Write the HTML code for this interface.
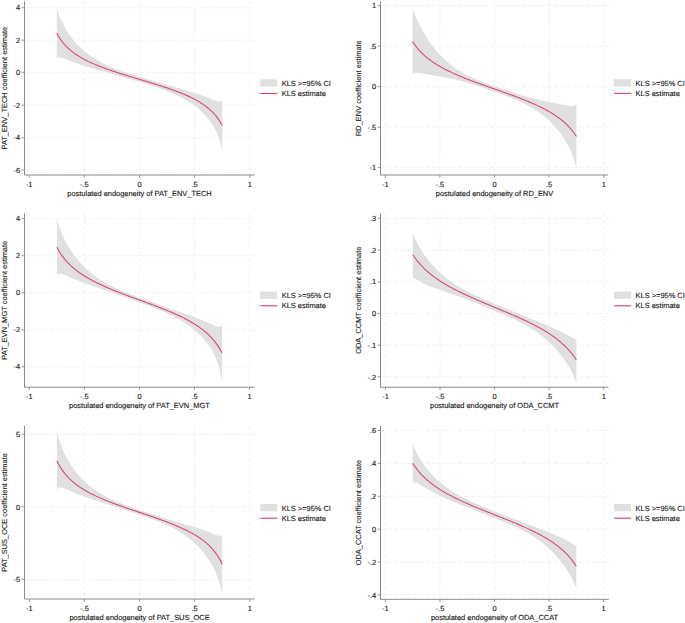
<!DOCTYPE html><html><head><meta charset="utf-8"><style>html,body{margin:0;padding:0;background:#fff;}svg{display:block}</style></head><body>
<svg width="685" height="623" viewBox="0 0 685 623" font-family='"Liberation Sans", sans-serif' font-size="7.45" text-rendering="geometricPrecision">
<style>text{stroke:#111;stroke-width:0.12px;}</style>
<rect width="685" height="623" fill="#fff"/>
<path d="M25.00 7.70H254.70 M25.00 40.20H254.70 M25.00 72.70H254.70 M25.00 105.20H254.70 M25.00 137.70H254.70 M25.00 170.20H254.70 M29.20 1.30V174.50 M84.35 1.30V174.50 M139.50 1.30V174.50 M194.65 1.30V174.50 M249.80 1.30V174.50" stroke="#eeeeee" stroke-width="0.85" stroke-dasharray="4 2.4" fill="none"/>
<path d="M56.78 7.10 L57.33 9.17 L57.88 11.05 L58.43 12.79 L58.98 14.41 L59.53 15.93 L60.08 17.37 L60.64 18.73 L61.19 20.03 L61.74 21.28 L62.29 22.47 L62.84 23.62 L63.39 24.72 L63.94 25.79 L64.50 26.82 L65.05 27.82 L65.60 28.78 L66.15 29.72 L66.70 30.63 L67.25 31.52 L67.81 32.38 L68.36 33.22 L68.91 34.04 L69.46 34.84 L70.01 35.62 L70.56 36.38 L71.11 37.13 L71.67 37.85 L72.22 38.56 L72.77 39.26 L73.32 39.94 L73.87 40.61 L74.42 41.26 L74.97 41.90 L75.53 42.53 L76.08 43.14 L76.63 43.74 L77.18 44.33 L77.73 44.91 L78.28 45.48 L78.83 46.04 L79.39 46.59 L79.94 47.13 L80.49 47.65 L81.04 48.17 L81.59 48.68 L82.14 49.19 L82.70 49.68 L83.25 50.16 L83.80 50.64 L84.35 51.11 L84.90 51.57 L85.45 52.02 L86.00 52.47 L86.56 52.91 L87.11 53.34 L87.66 53.76 L88.21 54.18 L88.76 54.59 L89.31 55.00 L89.87 55.39 L90.42 55.79 L90.97 56.17 L91.52 56.55 L92.07 56.93 L92.62 57.30 L93.17 57.66 L93.73 58.02 L94.28 58.37 L94.83 58.72 L95.38 59.06 L95.93 59.40 L96.48 59.73 L97.03 60.06 L97.59 60.39 L98.14 60.71 L98.69 61.02 L99.24 61.33 L99.79 61.64 L100.34 61.94 L100.90 62.23 L101.45 62.53 L102.00 62.82 L102.55 63.10 L103.10 63.38 L103.65 63.66 L104.20 63.94 L104.76 64.21 L105.31 64.47 L105.86 64.74 L106.41 65.00 L106.96 65.26 L107.51 65.51 L108.06 65.76 L108.62 66.01 L109.17 66.25 L109.72 66.50 L110.27 66.73 L110.82 66.97 L111.37 67.20 L111.93 67.43 L112.48 67.66 L113.03 67.89 L113.58 68.11 L114.13 68.33 L114.68 68.55 L115.23 68.76 L115.79 68.98 L116.34 69.19 L116.89 69.40 L117.44 69.60 L117.99 69.81 L118.54 70.01 L119.09 70.21 L119.65 70.41 L120.20 70.61 L120.75 70.80 L121.30 71.00 L121.85 71.19 L122.40 71.38 L122.96 71.57 L123.51 71.76 L124.06 71.94 L124.61 72.13 L125.16 72.31 L125.71 72.49 L126.26 72.67 L126.82 72.85 L127.37 73.03 L127.92 73.20 L128.47 73.38 L129.02 73.56 L129.57 73.73 L130.12 73.90 L130.68 74.07 L131.23 74.25 L131.78 74.42 L132.33 74.59 L132.88 74.76 L133.43 74.92 L133.99 75.09 L134.54 75.26 L135.09 75.43 L135.64 75.59 L136.19 75.76 L136.74 75.92 L137.29 76.09 L137.85 76.26 L138.40 76.42 L138.95 76.59 L139.50 76.75 L140.05 76.91 L140.60 77.08 L141.15 77.24 L141.71 77.41 L142.26 77.57 L142.81 77.74 L143.36 77.90 L143.91 78.06 L144.46 78.23 L145.02 78.39 L145.57 78.55 L146.12 78.72 L146.67 78.88 L147.22 79.04 L147.77 79.21 L148.32 79.37 L148.88 79.53 L149.43 79.69 L149.98 79.86 L150.53 80.02 L151.08 80.18 L151.63 80.34 L152.18 80.51 L152.74 80.67 L153.29 80.83 L153.84 80.99 L154.39 81.15 L154.94 81.31 L155.49 81.47 L156.04 81.63 L156.60 81.79 L157.15 81.95 L157.70 82.12 L158.25 82.28 L158.80 82.44 L159.35 82.60 L159.91 82.76 L160.46 82.92 L161.01 83.07 L161.56 83.23 L162.11 83.39 L162.66 83.55 L163.21 83.71 L163.77 83.87 L164.32 84.03 L164.87 84.19 L165.42 84.35 L165.97 84.51 L166.52 84.67 L167.07 84.82 L167.63 84.98 L168.18 85.14 L168.73 85.30 L169.28 85.46 L169.83 85.62 L170.38 85.77 L170.94 85.93 L171.49 86.09 L172.04 86.25 L172.59 86.41 L173.14 86.56 L173.69 86.72 L174.24 86.88 L174.80 87.04 L175.35 87.20 L175.90 87.36 L176.45 87.51 L177.00 87.67 L177.55 87.83 L178.11 87.99 L178.66 88.15 L179.21 88.31 L179.76 88.47 L180.31 88.63 L180.86 88.79 L181.41 88.95 L181.97 89.11 L182.52 89.27 L183.07 89.43 L183.62 89.59 L184.17 89.75 L184.72 89.92 L185.27 90.08 L185.83 90.24 L186.38 90.41 L186.93 90.57 L187.48 90.73 L188.03 90.90 L188.58 91.07 L189.13 91.23 L189.69 91.40 L190.24 91.57 L190.79 91.74 L191.34 91.91 L191.89 92.08 L192.44 92.25 L193.00 92.42 L193.55 92.59 L194.10 92.77 L194.65 92.94 L195.20 93.12 L195.75 93.30 L196.30 93.48 L196.86 93.66 L197.41 93.84 L197.96 94.02 L198.51 94.21 L199.06 94.39 L199.61 94.58 L200.17 94.77 L200.72 94.96 L201.27 95.16 L201.82 95.35 L202.37 95.55 L202.92 95.75 L203.47 95.95 L204.03 96.15 L204.58 96.36 L205.13 96.57 L205.68 96.78 L206.23 96.99 L206.78 97.20 L207.33 97.42 L207.89 97.64 L208.44 97.86 L208.99 98.08 L209.54 98.30 L210.09 98.53 L210.64 98.76 L211.19 98.98 L211.75 99.21 L212.30 99.44 L212.85 99.67 L213.40 99.89 L213.95 100.12 L214.50 100.34 L215.06 100.55 L215.61 100.75 L216.16 100.95 L216.71 101.13 L217.26 101.29 L217.81 101.42 L218.36 101.52 L218.92 101.57 L219.47 101.57 L220.02 101.49 L220.57 101.30 L221.12 100.96 L221.67 100.43 L222.23 99.60 L222.23 151.60 L221.67 148.67 L221.12 146.12 L220.57 143.87 L220.02 141.85 L219.47 140.01 L218.92 138.32 L218.36 136.76 L217.81 135.30 L217.26 133.94 L216.71 132.65 L216.16 131.43 L215.61 130.28 L215.06 129.18 L214.50 128.13 L213.95 127.12 L213.40 126.16 L212.85 125.23 L212.30 124.34 L211.75 123.48 L211.19 122.65 L210.64 121.85 L210.09 121.07 L209.54 120.32 L208.99 119.59 L208.44 118.88 L207.89 118.19 L207.33 117.52 L206.78 116.86 L206.23 116.22 L205.68 115.60 L205.13 115.00 L204.58 114.41 L204.03 113.83 L203.47 113.26 L202.92 112.71 L202.37 112.17 L201.82 111.64 L201.27 111.13 L200.72 110.62 L200.17 110.12 L199.61 109.64 L199.06 109.16 L198.51 108.69 L197.96 108.23 L197.41 107.78 L196.86 107.34 L196.30 106.91 L195.75 106.48 L195.20 106.06 L194.65 105.65 L194.10 105.24 L193.55 104.85 L193.00 104.46 L192.44 104.07 L191.89 103.69 L191.34 103.32 L190.79 102.95 L190.24 102.59 L189.69 102.23 L189.13 101.88 L188.58 101.54 L188.03 101.20 L187.48 100.86 L186.93 100.53 L186.38 100.21 L185.83 99.89 L185.27 99.57 L184.72 99.26 L184.17 98.95 L183.62 98.64 L183.07 98.34 L182.52 98.05 L181.97 97.76 L181.41 97.47 L180.86 97.18 L180.31 96.90 L179.76 96.63 L179.21 96.35 L178.66 96.08 L178.11 95.81 L177.55 95.55 L177.00 95.29 L176.45 95.03 L175.90 94.78 L175.35 94.52 L174.80 94.27 L174.24 94.03 L173.69 93.78 L173.14 93.54 L172.59 93.30 L172.04 93.07 L171.49 92.84 L170.94 92.60 L170.38 92.38 L169.83 92.15 L169.28 91.93 L168.73 91.70 L168.18 91.48 L167.63 91.27 L167.07 91.05 L166.52 90.84 L165.97 90.63 L165.42 90.42 L164.87 90.21 L164.32 90.00 L163.77 89.80 L163.21 89.59 L162.66 89.39 L162.11 89.19 L161.56 89.00 L161.01 88.80 L160.46 88.61 L159.91 88.41 L159.35 88.22 L158.80 88.03 L158.25 87.84 L157.70 87.65 L157.15 87.47 L156.60 87.28 L156.04 87.10 L155.49 86.91 L154.94 86.73 L154.39 86.55 L153.84 86.37 L153.29 86.19 L152.74 86.02 L152.18 85.84 L151.63 85.66 L151.08 85.49 L150.53 85.31 L149.98 85.14 L149.43 84.97 L148.88 84.80 L148.32 84.62 L147.77 84.45 L147.22 84.28 L146.67 84.11 L146.12 83.95 L145.57 83.78 L145.02 83.61 L144.46 83.44 L143.91 83.28 L143.36 83.11 L142.81 82.94 L142.26 82.78 L141.71 82.61 L141.15 82.45 L140.60 82.28 L140.05 82.11 L139.50 81.95 L138.95 81.79 L138.40 81.62 L137.85 81.46 L137.29 81.29 L136.74 81.13 L136.19 80.96 L135.64 80.80 L135.09 80.64 L134.54 80.47 L133.99 80.31 L133.43 80.15 L132.88 79.98 L132.33 79.82 L131.78 79.66 L131.23 79.49 L130.68 79.33 L130.12 79.17 L129.57 79.01 L129.02 78.84 L128.47 78.68 L127.92 78.52 L127.37 78.36 L126.82 78.20 L126.26 78.03 L125.71 77.87 L125.16 77.71 L124.61 77.55 L124.06 77.39 L123.51 77.23 L122.96 77.07 L122.40 76.91 L121.85 76.75 L121.30 76.59 L120.75 76.43 L120.20 76.27 L119.65 76.11 L119.09 75.95 L118.54 75.79 L117.99 75.63 L117.44 75.47 L116.89 75.31 L116.34 75.15 L115.79 74.99 L115.23 74.83 L114.68 74.68 L114.13 74.52 L113.58 74.36 L113.03 74.20 L112.48 74.04 L111.93 73.88 L111.37 73.73 L110.82 73.57 L110.27 73.41 L109.72 73.25 L109.17 73.10 L108.62 72.94 L108.06 72.78 L107.51 72.62 L106.96 72.47 L106.41 72.31 L105.86 72.15 L105.31 71.99 L104.76 71.84 L104.20 71.68 L103.65 71.52 L103.10 71.37 L102.55 71.21 L102.00 71.05 L101.45 70.89 L100.90 70.73 L100.34 70.58 L99.79 70.42 L99.24 70.26 L98.69 70.10 L98.14 69.94 L97.59 69.79 L97.03 69.63 L96.48 69.47 L95.93 69.31 L95.38 69.15 L94.83 68.99 L94.28 68.83 L93.73 68.67 L93.17 68.50 L92.62 68.34 L92.07 68.18 L91.52 68.02 L90.97 67.85 L90.42 67.69 L89.87 67.52 L89.31 67.36 L88.76 67.19 L88.21 67.03 L87.66 66.86 L87.11 66.69 L86.56 66.52 L86.00 66.35 L85.45 66.18 L84.90 66.01 L84.35 65.83 L83.80 65.66 L83.25 65.48 L82.70 65.31 L82.14 65.13 L81.59 64.95 L81.04 64.77 L80.49 64.59 L79.94 64.40 L79.39 64.22 L78.83 64.03 L78.28 63.84 L77.73 63.65 L77.18 63.46 L76.63 63.26 L76.08 63.07 L75.53 62.87 L74.97 62.67 L74.42 62.46 L73.87 62.26 L73.32 62.05 L72.77 61.84 L72.22 61.63 L71.67 61.42 L71.11 61.20 L70.56 60.98 L70.01 60.76 L69.46 60.54 L68.91 60.31 L68.36 60.09 L67.81 59.86 L67.25 59.64 L66.70 59.41 L66.15 59.18 L65.60 58.96 L65.05 58.73 L64.50 58.51 L63.94 58.30 L63.39 58.09 L62.84 57.90 L62.29 57.72 L61.74 57.55 L61.19 57.42 L60.64 57.31 L60.08 57.25 L59.53 57.24 L58.98 57.31 L58.43 57.48 L57.88 57.80 L57.33 58.31 L56.78 59.10Z" fill="#e0e0e0"/>
<path d="M56.78 33.10 L57.33 34.15 L57.88 35.16 L58.43 36.12 L58.98 37.03 L59.53 37.91 L60.08 38.75 L60.64 39.56 L61.19 40.34 L61.74 41.09 L62.29 41.81 L62.84 42.51 L63.39 43.18 L63.94 43.84 L64.50 44.47 L65.05 45.08 L65.60 45.67 L66.15 46.25 L66.70 46.81 L67.25 47.35 L67.81 47.88 L68.36 48.40 L68.91 48.90 L69.46 49.39 L70.01 49.87 L70.56 50.33 L71.11 50.79 L71.67 51.23 L72.22 51.67 L72.77 52.09 L73.32 52.51 L73.87 52.92 L74.42 53.32 L74.97 53.71 L75.53 54.09 L76.08 54.47 L76.63 54.84 L77.18 55.20 L77.73 55.56 L78.28 55.91 L78.83 56.25 L79.39 56.59 L79.94 56.92 L80.49 57.25 L81.04 57.57 L81.59 57.89 L82.14 58.20 L82.70 58.51 L83.25 58.81 L83.80 59.11 L84.35 59.40 L84.90 59.69 L85.45 59.98 L86.00 60.26 L86.56 60.54 L87.11 60.82 L87.66 61.09 L88.21 61.36 L88.76 61.62 L89.31 61.88 L89.87 62.14 L90.42 62.40 L90.97 62.65 L91.52 62.90 L92.07 63.15 L92.62 63.39 L93.17 63.64 L93.73 63.88 L94.28 64.11 L94.83 64.35 L95.38 64.58 L95.93 64.81 L96.48 65.04 L97.03 65.27 L97.59 65.49 L98.14 65.71 L98.69 65.93 L99.24 66.15 L99.79 66.37 L100.34 66.58 L100.90 66.80 L101.45 67.01 L102.00 67.22 L102.55 67.43 L103.10 67.63 L103.65 67.84 L104.20 68.04 L104.76 68.25 L105.31 68.45 L105.86 68.65 L106.41 68.84 L106.96 69.04 L107.51 69.24 L108.06 69.43 L108.62 69.63 L109.17 69.82 L109.72 70.01 L110.27 70.20 L110.82 70.39 L111.37 70.58 L111.93 70.76 L112.48 70.95 L113.03 71.13 L113.58 71.32 L114.13 71.50 L114.68 71.68 L115.23 71.87 L115.79 72.05 L116.34 72.23 L116.89 72.41 L117.44 72.58 L117.99 72.76 L118.54 72.94 L119.09 73.12 L119.65 73.29 L120.20 73.47 L120.75 73.64 L121.30 73.82 L121.85 73.99 L122.40 74.16 L122.96 74.33 L123.51 74.51 L124.06 74.68 L124.61 74.85 L125.16 75.02 L125.71 75.19 L126.26 75.36 L126.82 75.53 L127.37 75.70 L127.92 75.87 L128.47 76.03 L129.02 76.20 L129.57 76.37 L130.12 76.54 L130.68 76.70 L131.23 76.87 L131.78 77.04 L132.33 77.20 L132.88 77.37 L133.43 77.53 L133.99 77.70 L134.54 77.87 L135.09 78.03 L135.64 78.20 L136.19 78.36 L136.74 78.53 L137.29 78.69 L137.85 78.86 L138.40 79.02 L138.95 79.19 L139.50 79.35 L140.05 79.51 L140.60 79.68 L141.15 79.84 L141.71 80.01 L142.26 80.17 L142.81 80.34 L143.36 80.50 L143.91 80.67 L144.46 80.83 L145.02 81.00 L145.57 81.17 L146.12 81.33 L146.67 81.50 L147.22 81.66 L147.77 81.83 L148.32 82.00 L148.88 82.16 L149.43 82.33 L149.98 82.50 L150.53 82.67 L151.08 82.83 L151.63 83.00 L152.18 83.17 L152.74 83.34 L153.29 83.51 L153.84 83.68 L154.39 83.85 L154.94 84.02 L155.49 84.19 L156.04 84.37 L156.60 84.54 L157.15 84.71 L157.70 84.88 L158.25 85.06 L158.80 85.23 L159.35 85.41 L159.91 85.58 L160.46 85.76 L161.01 85.94 L161.56 86.12 L162.11 86.29 L162.66 86.47 L163.21 86.65 L163.77 86.83 L164.32 87.02 L164.87 87.20 L165.42 87.38 L165.97 87.57 L166.52 87.75 L167.07 87.94 L167.63 88.12 L168.18 88.31 L168.73 88.50 L169.28 88.69 L169.83 88.88 L170.38 89.07 L170.94 89.27 L171.49 89.46 L172.04 89.66 L172.59 89.86 L173.14 90.05 L173.69 90.25 L174.24 90.45 L174.80 90.66 L175.35 90.86 L175.90 91.07 L176.45 91.27 L177.00 91.48 L177.55 91.69 L178.11 91.90 L178.66 92.12 L179.21 92.33 L179.76 92.55 L180.31 92.77 L180.86 92.99 L181.41 93.21 L181.97 93.43 L182.52 93.66 L183.07 93.89 L183.62 94.12 L184.17 94.35 L184.72 94.59 L185.27 94.82 L185.83 95.06 L186.38 95.31 L186.93 95.55 L187.48 95.80 L188.03 96.05 L188.58 96.30 L189.13 96.56 L189.69 96.82 L190.24 97.08 L190.79 97.34 L191.34 97.61 L191.89 97.88 L192.44 98.16 L193.00 98.44 L193.55 98.72 L194.10 99.01 L194.65 99.30 L195.20 99.59 L195.75 99.89 L196.30 100.19 L196.86 100.50 L197.41 100.81 L197.96 101.13 L198.51 101.45 L199.06 101.78 L199.61 102.11 L200.17 102.45 L200.72 102.79 L201.27 103.14 L201.82 103.50 L202.37 103.86 L202.92 104.23 L203.47 104.61 L204.03 104.99 L204.58 105.38 L205.13 105.78 L205.68 106.19 L206.23 106.61 L206.78 107.03 L207.33 107.47 L207.89 107.91 L208.44 108.37 L208.99 108.83 L209.54 109.31 L210.09 109.80 L210.64 110.30 L211.19 110.82 L211.75 111.35 L212.30 111.89 L212.85 112.45 L213.40 113.03 L213.95 113.62 L214.50 114.23 L215.06 114.86 L215.61 115.52 L216.16 116.19 L216.71 116.89 L217.26 117.61 L217.81 118.36 L218.36 119.14 L218.92 119.95 L219.47 120.79 L220.02 121.67 L220.57 122.58 L221.12 123.54 L221.67 124.55 L222.23 125.60" stroke="#d6417a" stroke-width="1.05" fill="none" stroke-linejoin="round"/>
<path d="M24.50 1.30V175.00H254.70" stroke="#8a8a8a" stroke-width="1" fill="none"/>
<path d="M21.70 7.70H24.50 M21.70 40.20H24.50 M21.70 72.70H24.50 M21.70 105.20H24.50 M21.70 137.70H24.50 M21.70 170.20H24.50 M29.20 175.00V177.60 M84.35 175.00V177.60 M139.50 175.00V177.60 M194.65 175.00V177.60 M249.80 175.00V177.60" stroke="#8a8a8a" stroke-width="0.9" fill="none"/>
<text x="20.10" y="10.35" text-anchor="end" fill="#141414">4</text>
<text x="20.10" y="42.85" text-anchor="end" fill="#141414">2</text>
<text x="20.10" y="75.35" text-anchor="end" fill="#141414">0</text>
<text x="20.10" y="107.85" text-anchor="end" fill="#141414">-2</text>
<text x="20.10" y="140.35" text-anchor="end" fill="#141414">-4</text>
<text x="20.10" y="172.85" text-anchor="end" fill="#141414">-6</text>
<text x="29.20" y="186.80" text-anchor="middle" fill="#141414">-1</text>
<text x="84.35" y="186.80" text-anchor="middle" fill="#141414">-.5</text>
<text x="139.50" y="186.80" text-anchor="middle" fill="#141414">0</text>
<text x="194.65" y="186.80" text-anchor="middle" fill="#141414">.5</text>
<text x="249.80" y="186.80" text-anchor="middle" fill="#141414">1</text>
<text x="139.50" y="196.00" text-anchor="middle" fill="#141414">postulated endogeneity of PAT_ENV_TECH</text>
<text transform="translate(7.00 88.15) rotate(-90)" text-anchor="middle" fill="#141414" style="stroke-width:0.08px">PAT_ENV_TECH coefficient estimate</text>
<rect x="260.20" y="79.30" width="17" height="7.3" fill="#e0e0e0"/>
<path d="M260.20 93.50H277.20" stroke="#d6417a" stroke-width="1.1"/>
<text x="281.70" y="85.80" fill="#141414">KLS &gt;=95% CI</text>
<text x="281.70" y="95.90" fill="#141414">KLS estimate</text>
<path d="M381.00 5.70H608.20 M381.00 46.18H608.20 M381.00 86.65H608.20 M381.00 127.13H608.20 M381.00 167.60H608.20 M385.30 1.30V174.50 M439.90 1.30V174.50 M494.50 1.30V174.50 M549.10 1.30V174.50 M603.70 1.30V174.50" stroke="#eeeeee" stroke-width="0.85" stroke-dasharray="4 2.4" fill="none"/>
<path d="M412.60 8.80 L413.15 10.25 L413.69 11.66 L414.24 13.04 L414.78 14.38 L415.33 15.69 L415.88 16.98 L416.42 18.23 L416.97 19.46 L417.51 20.66 L418.06 21.83 L418.61 22.98 L419.15 24.11 L419.70 25.21 L420.24 26.29 L420.79 27.35 L421.34 28.39 L421.88 29.41 L422.43 30.41 L422.97 31.40 L423.52 32.36 L424.07 33.31 L424.61 34.24 L425.16 35.15 L425.70 36.05 L426.25 36.93 L426.80 37.79 L427.34 38.64 L427.89 39.48 L428.43 40.30 L428.98 41.11 L429.53 41.90 L430.07 42.68 L430.62 43.45 L431.16 44.21 L431.71 44.95 L432.26 45.68 L432.80 46.40 L433.35 47.11 L433.89 47.81 L434.44 48.49 L434.99 49.16 L435.53 49.83 L436.08 50.48 L436.62 51.12 L437.17 51.76 L437.72 52.38 L438.26 52.99 L438.81 53.60 L439.35 54.19 L439.90 54.77 L440.45 55.35 L440.99 55.92 L441.54 56.48 L442.08 57.02 L442.63 57.57 L443.18 58.10 L443.72 58.62 L444.27 59.14 L444.81 59.65 L445.36 60.15 L445.91 60.65 L446.45 61.13 L447.00 61.61 L447.54 62.08 L448.09 62.55 L448.64 63.00 L449.18 63.46 L449.73 63.90 L450.27 64.34 L450.82 64.77 L451.37 65.19 L451.91 65.61 L452.46 66.02 L453.00 66.43 L453.55 66.83 L454.10 67.22 L454.64 67.61 L455.19 68.00 L455.73 68.37 L456.28 68.75 L456.83 69.11 L457.37 69.47 L457.92 69.83 L458.46 70.18 L459.01 70.53 L459.56 70.87 L460.10 71.20 L460.65 71.54 L461.19 71.86 L461.74 72.19 L462.29 72.50 L462.83 72.82 L463.38 73.13 L463.92 73.43 L464.47 73.73 L465.02 74.03 L465.56 74.32 L466.11 74.61 L466.65 74.90 L467.20 75.18 L467.75 75.46 L468.29 75.73 L468.84 76.00 L469.38 76.27 L469.93 76.53 L470.48 76.79 L471.02 77.05 L471.57 77.31 L472.11 77.56 L472.66 77.81 L473.21 78.05 L473.75 78.30 L474.30 78.54 L474.84 78.78 L475.39 79.01 L475.94 79.24 L476.48 79.47 L477.03 79.70 L477.57 79.93 L478.12 80.15 L478.67 80.37 L479.21 80.59 L479.76 80.81 L480.30 81.03 L480.85 81.24 L481.40 81.45 L481.94 81.66 L482.49 81.87 L483.03 82.08 L483.58 82.28 L484.13 82.49 L484.67 82.69 L485.22 82.89 L485.76 83.09 L486.31 83.29 L486.86 83.49 L487.40 83.69 L487.95 83.89 L488.49 84.08 L489.04 84.28 L489.59 84.47 L490.13 84.66 L490.68 84.86 L491.22 85.05 L491.77 85.24 L492.32 85.43 L492.86 85.63 L493.41 85.82 L493.95 86.01 L494.50 86.20 L495.05 86.39 L495.59 86.58 L496.14 86.77 L496.68 86.96 L497.23 87.15 L497.78 87.34 L498.32 87.53 L498.87 87.72 L499.41 87.91 L499.96 88.10 L500.51 88.29 L501.05 88.48 L501.60 88.67 L502.14 88.86 L502.69 89.05 L503.24 89.23 L503.78 89.42 L504.33 89.61 L504.87 89.79 L505.42 89.98 L505.97 90.16 L506.51 90.35 L507.06 90.53 L507.60 90.72 L508.15 90.90 L508.70 91.08 L509.24 91.27 L509.79 91.45 L510.33 91.63 L510.88 91.81 L511.43 91.99 L511.97 92.17 L512.52 92.34 L513.06 92.52 L513.61 92.70 L514.16 92.87 L514.70 93.05 L515.25 93.22 L515.79 93.40 L516.34 93.57 L516.89 93.74 L517.43 93.91 L517.98 94.08 L518.52 94.25 L519.07 94.42 L519.62 94.59 L520.16 94.75 L520.71 94.92 L521.25 95.08 L521.80 95.25 L522.35 95.41 L522.89 95.57 L523.44 95.73 L523.98 95.89 L524.53 96.05 L525.08 96.21 L525.62 96.37 L526.17 96.52 L526.71 96.68 L527.26 96.83 L527.81 96.98 L528.35 97.14 L528.90 97.29 L529.44 97.43 L529.99 97.58 L530.54 97.73 L531.08 97.88 L531.63 98.02 L532.17 98.16 L532.72 98.31 L533.27 98.45 L533.81 98.59 L534.36 98.73 L534.90 98.87 L535.45 99.00 L536.00 99.14 L536.54 99.27 L537.09 99.41 L537.63 99.54 L538.18 99.67 L538.73 99.80 L539.27 99.93 L539.82 100.06 L540.36 100.19 L540.91 100.31 L541.46 100.44 L542.00 100.56 L542.55 100.68 L543.09 100.81 L543.64 100.93 L544.19 101.05 L544.73 101.17 L545.28 101.28 L545.82 101.40 L546.37 101.52 L546.92 101.63 L547.46 101.75 L548.01 101.86 L548.55 101.97 L549.10 102.08 L549.65 102.20 L550.19 102.31 L550.74 102.42 L551.28 102.53 L551.83 102.63 L552.38 102.74 L552.92 102.85 L553.47 102.96 L554.01 103.06 L554.56 103.17 L555.11 103.27 L555.65 103.38 L556.20 103.48 L556.74 103.59 L557.29 103.69 L557.84 103.80 L558.38 103.90 L558.93 104.00 L559.47 104.11 L560.02 104.21 L560.57 104.31 L561.11 104.42 L561.66 104.52 L562.20 104.62 L562.75 104.72 L563.30 104.82 L563.84 104.92 L564.39 105.02 L564.93 105.12 L565.48 105.22 L566.03 105.31 L566.57 105.41 L567.12 105.50 L567.66 105.58 L568.21 105.67 L568.76 105.74 L569.30 105.81 L569.85 105.87 L570.39 105.93 L570.94 105.96 L571.49 105.98 L572.03 105.98 L572.58 105.95 L573.12 105.89 L573.67 105.78 L574.22 105.61 L574.76 105.36 L575.31 105.01 L575.85 104.51 L576.40 103.80 L576.40 169.20 L575.85 166.65 L575.31 164.40 L574.76 162.37 L574.22 160.51 L573.67 158.79 L573.12 157.19 L572.58 155.68 L572.03 154.25 L571.49 152.90 L570.94 151.60 L570.39 150.37 L569.85 149.18 L569.30 148.03 L568.76 146.92 L568.21 145.86 L567.66 144.82 L567.12 143.82 L566.57 142.84 L566.03 141.89 L565.48 140.97 L564.93 140.07 L564.39 139.20 L563.84 138.34 L563.30 137.51 L562.75 136.69 L562.20 135.89 L561.66 135.11 L561.11 134.35 L560.57 133.60 L560.02 132.87 L559.47 132.15 L558.93 131.45 L558.38 130.76 L557.84 130.08 L557.29 129.42 L556.74 128.77 L556.20 128.13 L555.65 127.50 L555.11 126.88 L554.56 126.28 L554.01 125.68 L553.47 125.10 L552.92 124.52 L552.38 123.96 L551.83 123.40 L551.28 122.85 L550.74 122.31 L550.19 121.78 L549.65 121.26 L549.10 120.75 L548.55 120.25 L548.01 119.75 L547.46 119.26 L546.92 118.78 L546.37 118.30 L545.82 117.84 L545.28 117.38 L544.73 116.92 L544.19 116.48 L543.64 116.04 L543.09 115.60 L542.55 115.18 L542.00 114.75 L541.46 114.34 L540.91 113.93 L540.36 113.53 L539.82 113.13 L539.27 112.74 L538.73 112.35 L538.18 111.97 L537.63 111.59 L537.09 111.22 L536.54 110.85 L536.00 110.49 L535.45 110.14 L534.90 109.78 L534.36 109.44 L533.81 109.10 L533.27 108.76 L532.72 108.42 L532.17 108.09 L531.63 107.77 L531.08 107.45 L530.54 107.13 L529.99 106.82 L529.44 106.51 L528.90 106.20 L528.35 105.90 L527.81 105.60 L527.26 105.31 L526.71 105.02 L526.17 104.73 L525.62 104.45 L525.08 104.17 L524.53 103.89 L523.98 103.61 L523.44 103.34 L522.89 103.07 L522.35 102.81 L521.80 102.55 L521.25 102.29 L520.71 102.03 L520.16 101.78 L519.62 101.52 L519.07 101.27 L518.52 101.03 L517.98 100.78 L517.43 100.54 L516.89 100.30 L516.34 100.07 L515.79 99.83 L515.25 99.60 L514.70 99.37 L514.16 99.14 L513.61 98.91 L513.06 98.69 L512.52 98.46 L511.97 98.24 L511.43 98.02 L510.88 97.81 L510.33 97.59 L509.79 97.37 L509.24 97.16 L508.70 96.95 L508.15 96.74 L507.60 96.53 L507.06 96.32 L506.51 96.12 L505.97 95.91 L505.42 95.71 L504.87 95.51 L504.33 95.31 L503.78 95.10 L503.24 94.91 L502.69 94.71 L502.14 94.51 L501.60 94.31 L501.05 94.12 L500.51 93.92 L499.96 93.72 L499.41 93.53 L498.87 93.34 L498.32 93.14 L497.78 92.95 L497.23 92.76 L496.68 92.57 L496.14 92.37 L495.59 92.18 L495.05 91.99 L494.50 91.80 L493.95 91.61 L493.41 91.42 L492.86 91.23 L492.32 91.04 L491.77 90.85 L491.22 90.66 L490.68 90.46 L490.13 90.27 L489.59 90.09 L489.04 89.90 L488.49 89.71 L487.95 89.52 L487.40 89.33 L486.86 89.14 L486.31 88.95 L485.76 88.77 L485.22 88.58 L484.67 88.39 L484.13 88.21 L483.58 88.02 L483.03 87.84 L482.49 87.65 L481.94 87.47 L481.40 87.29 L480.85 87.10 L480.30 86.92 L479.76 86.74 L479.21 86.56 L478.67 86.38 L478.12 86.20 L477.57 86.02 L477.03 85.85 L476.48 85.67 L475.94 85.49 L475.39 85.32 L474.84 85.14 L474.30 84.97 L473.75 84.80 L473.21 84.63 L472.66 84.46 L472.11 84.29 L471.57 84.12 L471.02 83.95 L470.48 83.78 L469.93 83.62 L469.38 83.45 L468.84 83.29 L468.29 83.13 L467.75 82.97 L467.20 82.81 L466.65 82.65 L466.11 82.49 L465.56 82.33 L465.02 82.18 L464.47 82.02 L463.92 81.87 L463.38 81.72 L462.83 81.57 L462.29 81.42 L461.74 81.27 L461.19 81.12 L460.65 80.98 L460.10 80.83 L459.56 80.69 L459.01 80.55 L458.46 80.41 L457.92 80.27 L457.37 80.13 L456.83 79.99 L456.28 79.86 L455.73 79.73 L455.19 79.59 L454.64 79.46 L454.10 79.33 L453.55 79.20 L453.00 79.08 L452.46 78.95 L451.91 78.83 L451.37 78.70 L450.82 78.58 L450.27 78.46 L449.73 78.34 L449.18 78.22 L448.64 78.11 L448.09 77.99 L447.54 77.88 L447.00 77.77 L446.45 77.66 L445.91 77.55 L445.36 77.44 L444.81 77.33 L444.27 77.22 L443.72 77.12 L443.18 77.01 L442.63 76.91 L442.08 76.81 L441.54 76.71 L440.99 76.61 L440.45 76.51 L439.90 76.41 L439.35 76.31 L438.81 76.22 L438.26 76.12 L437.72 76.03 L437.17 75.94 L436.62 75.84 L436.08 75.75 L435.53 75.66 L434.99 75.57 L434.44 75.48 L433.89 75.39 L433.35 75.30 L432.80 75.21 L432.26 75.12 L431.71 75.03 L431.16 74.95 L430.62 74.86 L430.07 74.77 L429.53 74.68 L428.98 74.60 L428.43 74.51 L427.89 74.42 L427.34 74.33 L426.80 74.24 L426.25 74.16 L425.70 74.07 L425.16 73.98 L424.61 73.89 L424.07 73.81 L423.52 73.72 L422.97 73.63 L422.43 73.54 L421.88 73.46 L421.34 73.38 L420.79 73.29 L420.24 73.22 L419.70 73.14 L419.15 73.07 L418.61 73.01 L418.06 72.95 L417.51 72.91 L416.97 72.88 L416.42 72.87 L415.88 72.88 L415.33 72.92 L414.78 73.01 L414.24 73.16 L413.69 73.38 L413.15 73.71 L412.60 74.20Z" fill="#e0e0e0"/>
<path d="M412.60 41.50 L413.15 42.35 L413.69 43.18 L414.24 43.98 L414.78 44.75 L415.33 45.50 L415.88 46.23 L416.42 46.94 L416.97 47.62 L417.51 48.29 L418.06 48.94 L418.61 49.57 L419.15 50.19 L419.70 50.79 L420.24 51.38 L420.79 51.95 L421.34 52.51 L421.88 53.06 L422.43 53.59 L422.97 54.11 L423.52 54.62 L424.07 55.13 L424.61 55.62 L425.16 56.10 L425.70 56.57 L426.25 57.03 L426.80 57.48 L427.34 57.93 L427.89 58.37 L428.43 58.80 L428.98 59.22 L429.53 59.63 L430.07 60.04 L430.62 60.44 L431.16 60.84 L431.71 61.23 L432.26 61.61 L432.80 61.98 L433.35 62.36 L433.89 62.72 L434.44 63.08 L434.99 63.44 L435.53 63.79 L436.08 64.13 L436.62 64.48 L437.17 64.81 L437.72 65.14 L438.26 65.47 L438.81 65.80 L439.35 66.12 L439.90 66.43 L440.45 66.75 L440.99 67.06 L441.54 67.36 L442.08 67.66 L442.63 67.96 L443.18 68.26 L443.72 68.55 L444.27 68.84 L444.81 69.13 L445.36 69.41 L445.91 69.69 L446.45 69.97 L447.00 70.24 L447.54 70.52 L448.09 70.79 L448.64 71.06 L449.18 71.32 L449.73 71.58 L450.27 71.85 L450.82 72.10 L451.37 72.36 L451.91 72.62 L452.46 72.87 L453.00 73.12 L453.55 73.37 L454.10 73.61 L454.64 73.86 L455.19 74.10 L455.73 74.34 L456.28 74.58 L456.83 74.82 L457.37 75.06 L457.92 75.29 L458.46 75.53 L459.01 75.76 L459.56 75.99 L460.10 76.22 L460.65 76.45 L461.19 76.67 L461.74 76.90 L462.29 77.12 L462.83 77.35 L463.38 77.57 L463.92 77.79 L464.47 78.01 L465.02 78.22 L465.56 78.44 L466.11 78.66 L466.65 78.87 L467.20 79.09 L467.75 79.30 L468.29 79.51 L468.84 79.72 L469.38 79.93 L469.93 80.14 L470.48 80.35 L471.02 80.56 L471.57 80.76 L472.11 80.97 L472.66 81.18 L473.21 81.38 L473.75 81.58 L474.30 81.79 L474.84 81.99 L475.39 82.19 L475.94 82.39 L476.48 82.59 L477.03 82.79 L477.57 82.99 L478.12 83.19 L478.67 83.39 L479.21 83.59 L479.76 83.78 L480.30 83.98 L480.85 84.18 L481.40 84.37 L481.94 84.57 L482.49 84.77 L483.03 84.96 L483.58 85.16 L484.13 85.35 L484.67 85.54 L485.22 85.74 L485.76 85.93 L486.31 86.12 L486.86 86.32 L487.40 86.51 L487.95 86.70 L488.49 86.89 L489.04 87.09 L489.59 87.28 L490.13 87.47 L490.68 87.66 L491.22 87.85 L491.77 88.04 L492.32 88.24 L492.86 88.43 L493.41 88.62 L493.95 88.81 L494.50 89.00 L495.05 89.19 L495.59 89.38 L496.14 89.57 L496.68 89.76 L497.23 89.96 L497.78 90.15 L498.32 90.34 L498.87 90.53 L499.41 90.72 L499.96 90.91 L500.51 91.11 L501.05 91.30 L501.60 91.49 L502.14 91.68 L502.69 91.88 L503.24 92.07 L503.78 92.26 L504.33 92.46 L504.87 92.65 L505.42 92.84 L505.97 93.04 L506.51 93.23 L507.06 93.43 L507.60 93.63 L508.15 93.82 L508.70 94.02 L509.24 94.22 L509.79 94.41 L510.33 94.61 L510.88 94.81 L511.43 95.01 L511.97 95.21 L512.52 95.41 L513.06 95.61 L513.61 95.81 L514.16 96.01 L514.70 96.21 L515.25 96.42 L515.79 96.62 L516.34 96.82 L516.89 97.03 L517.43 97.24 L517.98 97.44 L518.52 97.65 L519.07 97.86 L519.62 98.07 L520.16 98.28 L520.71 98.49 L521.25 98.70 L521.80 98.91 L522.35 99.13 L522.89 99.34 L523.44 99.56 L523.98 99.78 L524.53 99.99 L525.08 100.21 L525.62 100.43 L526.17 100.65 L526.71 100.88 L527.26 101.10 L527.81 101.33 L528.35 101.55 L528.90 101.78 L529.44 102.01 L529.99 102.24 L530.54 102.47 L531.08 102.71 L531.63 102.94 L532.17 103.18 L532.72 103.42 L533.27 103.66 L533.81 103.90 L534.36 104.14 L534.90 104.39 L535.45 104.63 L536.00 104.88 L536.54 105.13 L537.09 105.38 L537.63 105.64 L538.18 105.90 L538.73 106.15 L539.27 106.42 L539.82 106.68 L540.36 106.94 L540.91 107.21 L541.46 107.48 L542.00 107.76 L542.55 108.03 L543.09 108.31 L543.64 108.59 L544.19 108.87 L544.73 109.16 L545.28 109.45 L545.82 109.74 L546.37 110.04 L546.92 110.34 L547.46 110.64 L548.01 110.94 L548.55 111.25 L549.10 111.57 L549.65 111.88 L550.19 112.20 L550.74 112.53 L551.28 112.86 L551.83 113.19 L552.38 113.52 L552.92 113.87 L553.47 114.21 L554.01 114.56 L554.56 114.92 L555.11 115.28 L555.65 115.64 L556.20 116.02 L556.74 116.39 L557.29 116.77 L557.84 117.16 L558.38 117.56 L558.93 117.96 L559.47 118.37 L560.02 118.78 L560.57 119.20 L561.11 119.63 L561.66 120.07 L562.20 120.52 L562.75 120.97 L563.30 121.43 L563.84 121.90 L564.39 122.38 L564.93 122.87 L565.48 123.38 L566.03 123.89 L566.57 124.41 L567.12 124.94 L567.66 125.49 L568.21 126.05 L568.76 126.62 L569.30 127.21 L569.85 127.81 L570.39 128.43 L570.94 129.06 L571.49 129.71 L572.03 130.38 L572.58 131.06 L573.12 131.77 L573.67 132.50 L574.22 133.25 L574.76 134.02 L575.31 134.82 L575.85 135.65 L576.40 136.50" stroke="#d6417a" stroke-width="1.05" fill="none" stroke-linejoin="round"/>
<path d="M380.50 1.30V175.00H608.20" stroke="#8a8a8a" stroke-width="1" fill="none"/>
<path d="M377.70 5.70H380.50 M377.70 46.18H380.50 M377.70 86.65H380.50 M377.70 127.13H380.50 M377.70 167.60H380.50 M385.30 175.00V177.60 M439.90 175.00V177.60 M494.50 175.00V177.60 M549.10 175.00V177.60 M603.70 175.00V177.60" stroke="#8a8a8a" stroke-width="0.9" fill="none"/>
<text x="376.10" y="8.35" text-anchor="end" fill="#141414">1</text>
<text x="376.10" y="48.83" text-anchor="end" fill="#141414">.5</text>
<text x="376.10" y="89.30" text-anchor="end" fill="#141414">0</text>
<text x="376.10" y="129.78" text-anchor="end" fill="#141414">-.5</text>
<text x="376.10" y="170.25" text-anchor="end" fill="#141414">-1</text>
<text x="385.30" y="186.80" text-anchor="middle" fill="#141414">-1</text>
<text x="439.90" y="186.80" text-anchor="middle" fill="#141414">-.5</text>
<text x="494.50" y="186.80" text-anchor="middle" fill="#141414">0</text>
<text x="549.10" y="186.80" text-anchor="middle" fill="#141414">.5</text>
<text x="603.70" y="186.80" text-anchor="middle" fill="#141414">1</text>
<text x="494.50" y="196.00" text-anchor="middle" fill="#141414">postulated endogeneity of RD_ENV</text>
<text transform="translate(361.20 88.15) rotate(-90)" text-anchor="middle" fill="#141414" style="stroke-width:0.08px">RD_ENV coefficient estimate</text>
<rect x="614.10" y="79.20" width="17" height="7.3" fill="#e0e0e0"/>
<path d="M614.10 93.40H631.10" stroke="#d6417a" stroke-width="1.1"/>
<text x="635.60" y="85.70" fill="#141414">KLS &gt;=95% CI</text>
<text x="635.60" y="95.80" fill="#141414">KLS estimate</text>
<path d="M25.00 218.60H254.50 M25.00 255.65H254.50 M25.00 292.70H254.50 M25.00 329.75H254.50 M25.00 366.80H254.50 M29.40 213.30V386.70 M84.42 213.30V386.70 M139.45 213.30V386.70 M194.47 213.30V386.70 M249.50 213.30V386.70" stroke="#eeeeee" stroke-width="0.85" stroke-dasharray="4 2.4" fill="none"/>
<path d="M56.91 219.10 L57.46 221.12 L58.01 222.99 L58.56 224.74 L59.11 226.38 L59.66 227.94 L60.21 229.43 L60.76 230.85 L61.31 232.22 L61.86 233.53 L62.41 234.80 L62.97 236.03 L63.52 237.22 L64.07 238.38 L64.62 239.50 L65.17 240.59 L65.72 241.65 L66.27 242.68 L66.82 243.68 L67.37 244.67 L67.92 245.62 L68.47 246.56 L69.02 247.48 L69.57 248.37 L70.12 249.24 L70.67 250.10 L71.22 250.94 L71.77 251.76 L72.32 252.57 L72.87 253.36 L73.42 254.13 L73.97 254.89 L74.52 255.63 L75.07 256.36 L75.62 257.08 L76.17 257.78 L76.72 258.47 L77.27 259.15 L77.82 259.82 L78.37 260.47 L78.92 261.12 L79.47 261.75 L80.02 262.37 L80.57 262.99 L81.12 263.59 L81.67 264.18 L82.22 264.76 L82.77 265.33 L83.32 265.90 L83.87 266.45 L84.42 267.00 L84.98 267.54 L85.53 268.07 L86.08 268.59 L86.63 269.10 L87.18 269.60 L87.73 270.10 L88.28 270.59 L88.83 271.07 L89.38 271.55 L89.93 272.02 L90.48 272.48 L91.03 272.93 L91.58 273.38 L92.13 273.82 L92.68 274.26 L93.23 274.69 L93.78 275.11 L94.33 275.52 L94.88 275.94 L95.43 276.34 L95.98 276.74 L96.53 277.13 L97.08 277.52 L97.63 277.91 L98.18 278.28 L98.73 278.66 L99.28 279.03 L99.83 279.39 L100.38 279.75 L100.93 280.10 L101.48 280.45 L102.03 280.79 L102.58 281.13 L103.13 281.47 L103.68 281.80 L104.23 282.13 L104.78 282.45 L105.33 282.77 L105.88 283.08 L106.44 283.40 L106.99 283.70 L107.54 284.01 L108.09 284.31 L108.64 284.60 L109.19 284.90 L109.74 285.19 L110.29 285.47 L110.84 285.76 L111.39 286.04 L111.94 286.31 L112.49 286.59 L113.04 286.86 L113.59 287.12 L114.14 287.39 L114.69 287.65 L115.24 287.91 L115.79 288.17 L116.34 288.42 L116.89 288.67 L117.44 288.92 L117.99 289.17 L118.54 289.42 L119.09 289.66 L119.64 289.90 L120.19 290.14 L120.74 290.37 L121.29 290.61 L121.84 290.84 L122.39 291.07 L122.94 291.30 L123.49 291.52 L124.04 291.75 L124.59 291.97 L125.14 292.20 L125.69 292.42 L126.24 292.63 L126.79 292.85 L127.34 293.07 L127.89 293.28 L128.44 293.50 L129.00 293.71 L129.55 293.92 L130.10 294.13 L130.65 294.34 L131.20 294.55 L131.75 294.76 L132.30 294.96 L132.85 295.17 L133.40 295.37 L133.95 295.58 L134.50 295.78 L135.05 295.99 L135.60 296.19 L136.15 296.39 L136.70 296.59 L137.25 296.79 L137.80 297.00 L138.35 297.20 L138.90 297.40 L139.45 297.60 L140.00 297.80 L140.55 298.00 L141.10 298.20 L141.65 298.40 L142.20 298.60 L142.75 298.80 L143.30 299.00 L143.85 299.20 L144.40 299.40 L144.95 299.60 L145.50 299.80 L146.05 300.00 L146.60 300.20 L147.15 300.40 L147.70 300.60 L148.25 300.80 L148.80 301.00 L149.35 301.20 L149.90 301.39 L150.46 301.59 L151.01 301.79 L151.56 301.99 L152.11 302.19 L152.66 302.38 L153.21 302.58 L153.76 302.78 L154.31 302.97 L154.86 303.17 L155.41 303.37 L155.96 303.56 L156.51 303.76 L157.06 303.96 L157.61 304.15 L158.16 304.35 L158.71 304.54 L159.26 304.74 L159.81 304.93 L160.36 305.13 L160.91 305.32 L161.46 305.52 L162.01 305.71 L162.56 305.91 L163.11 306.10 L163.66 306.29 L164.21 306.49 L164.76 306.68 L165.31 306.87 L165.86 307.07 L166.41 307.26 L166.96 307.45 L167.51 307.65 L168.06 307.84 L168.61 308.03 L169.16 308.22 L169.71 308.41 L170.26 308.61 L170.81 308.80 L171.36 308.99 L171.91 309.18 L172.47 309.37 L173.02 309.57 L173.57 309.76 L174.12 309.95 L174.67 310.14 L175.22 310.33 L175.77 310.52 L176.32 310.71 L176.87 310.91 L177.42 311.10 L177.97 311.29 L178.52 311.48 L179.07 311.67 L179.62 311.86 L180.17 312.06 L180.72 312.25 L181.27 312.44 L181.82 312.63 L182.37 312.83 L182.92 313.02 L183.47 313.21 L184.02 313.41 L184.57 313.60 L185.12 313.79 L185.67 313.99 L186.22 314.18 L186.77 314.38 L187.32 314.58 L187.87 314.77 L188.42 314.97 L188.97 315.17 L189.52 315.36 L190.07 315.56 L190.62 315.76 L191.17 315.96 L191.72 316.16 L192.27 316.37 L192.82 316.57 L193.37 316.77 L193.92 316.98 L194.47 317.18 L195.03 317.39 L195.58 317.60 L196.13 317.81 L196.68 318.02 L197.23 318.23 L197.78 318.44 L198.33 318.66 L198.88 318.88 L199.43 319.09 L199.98 319.31 L200.53 319.53 L201.08 319.76 L201.63 319.98 L202.18 320.21 L202.73 320.44 L203.28 320.67 L203.83 320.90 L204.38 321.13 L204.93 321.37 L205.48 321.61 L206.03 321.85 L206.58 322.09 L207.13 322.33 L207.68 322.58 L208.23 322.82 L208.78 323.07 L209.33 323.32 L209.88 323.58 L210.43 323.83 L210.98 324.08 L211.53 324.33 L212.08 324.59 L212.63 324.84 L213.18 325.08 L213.73 325.33 L214.28 325.57 L214.83 325.80 L215.38 326.02 L215.93 326.23 L216.48 326.43 L217.04 326.60 L217.59 326.74 L218.14 326.85 L218.69 326.91 L219.24 326.91 L219.79 326.83 L220.34 326.63 L220.89 326.29 L221.44 325.74 L221.99 324.90 L221.99 380.90 L221.44 377.55 L220.89 374.67 L220.34 372.14 L219.79 369.88 L219.24 367.83 L218.69 365.96 L218.14 364.23 L217.59 362.63 L217.04 361.12 L216.48 359.71 L215.93 358.38 L215.38 357.11 L214.83 355.91 L214.28 354.76 L213.73 353.66 L213.18 352.60 L212.63 351.59 L212.08 350.61 L211.53 349.67 L210.98 348.77 L210.43 347.89 L209.88 347.04 L209.33 346.21 L208.78 345.41 L208.23 344.63 L207.68 343.87 L207.13 343.14 L206.58 342.42 L206.03 341.72 L205.48 341.04 L204.93 340.37 L204.38 339.72 L203.83 339.09 L203.28 338.46 L202.73 337.86 L202.18 337.26 L201.63 336.68 L201.08 336.11 L200.53 335.55 L199.98 335.00 L199.43 334.46 L198.88 333.93 L198.33 333.41 L197.78 332.90 L197.23 332.40 L196.68 331.91 L196.13 331.43 L195.58 330.95 L195.03 330.49 L194.47 330.03 L193.92 329.57 L193.37 329.13 L192.82 328.69 L192.27 328.26 L191.72 327.84 L191.17 327.42 L190.62 327.01 L190.07 326.60 L189.52 326.20 L188.97 325.81 L188.42 325.42 L187.87 325.03 L187.32 324.65 L186.77 324.28 L186.22 323.91 L185.67 323.55 L185.12 323.19 L184.57 322.84 L184.02 322.49 L183.47 322.14 L182.92 321.80 L182.37 321.46 L181.82 321.13 L181.27 320.80 L180.72 320.47 L180.17 320.15 L179.62 319.83 L179.07 319.52 L178.52 319.21 L177.97 318.90 L177.42 318.60 L176.87 318.30 L176.32 318.00 L175.77 317.70 L175.22 317.41 L174.67 317.12 L174.12 316.84 L173.57 316.56 L173.02 316.28 L172.47 316.00 L171.91 315.72 L171.36 315.45 L170.81 315.18 L170.26 314.91 L169.71 314.65 L169.16 314.39 L168.61 314.13 L168.06 313.87 L167.51 313.61 L166.96 313.36 L166.41 313.11 L165.86 312.86 L165.31 312.61 L164.76 312.36 L164.21 312.12 L163.66 311.88 L163.11 311.63 L162.56 311.40 L162.01 311.16 L161.46 310.92 L160.91 310.69 L160.36 310.46 L159.81 310.23 L159.26 310.00 L158.71 309.77 L158.16 309.54 L157.61 309.32 L157.06 309.09 L156.51 308.87 L155.96 308.65 L155.41 308.43 L154.86 308.21 L154.31 307.99 L153.76 307.78 L153.21 307.56 L152.66 307.35 L152.11 307.13 L151.56 306.92 L151.01 306.71 L150.46 306.50 L149.90 306.29 L149.35 306.08 L148.80 305.87 L148.25 305.66 L147.70 305.45 L147.15 305.25 L146.60 305.04 L146.05 304.83 L145.50 304.63 L144.95 304.42 L144.40 304.22 L143.85 304.02 L143.30 303.81 L142.75 303.61 L142.20 303.41 L141.65 303.21 L141.10 303.00 L140.55 302.80 L140.00 302.60 L139.45 302.40 L138.90 302.20 L138.35 302.00 L137.80 301.80 L137.25 301.60 L136.70 301.40 L136.15 301.20 L135.60 301.00 L135.05 300.80 L134.50 300.60 L133.95 300.40 L133.40 300.20 L132.85 300.00 L132.30 299.80 L131.75 299.60 L131.20 299.40 L130.65 299.20 L130.10 299.00 L129.55 298.80 L129.00 298.61 L128.44 298.41 L127.89 298.21 L127.34 298.01 L126.79 297.82 L126.24 297.62 L125.69 297.42 L125.14 297.22 L124.59 297.03 L124.04 296.83 L123.49 296.64 L122.94 296.44 L122.39 296.24 L121.84 296.05 L121.29 295.85 L120.74 295.66 L120.19 295.46 L119.64 295.27 L119.09 295.08 L118.54 294.88 L117.99 294.69 L117.44 294.50 L116.89 294.30 L116.34 294.11 L115.79 293.92 L115.24 293.72 L114.69 293.53 L114.14 293.34 L113.59 293.15 L113.04 292.96 L112.49 292.77 L111.94 292.58 L111.39 292.38 L110.84 292.19 L110.29 292.00 L109.74 291.81 L109.19 291.62 L108.64 291.43 L108.09 291.25 L107.54 291.06 L106.99 290.87 L106.44 290.68 L105.88 290.49 L105.33 290.30 L104.78 290.11 L104.23 289.92 L103.68 289.74 L103.13 289.55 L102.58 289.36 L102.03 289.17 L101.48 288.98 L100.93 288.80 L100.38 288.61 L99.83 288.42 L99.28 288.23 L98.73 288.05 L98.18 287.86 L97.63 287.67 L97.08 287.48 L96.53 287.29 L95.98 287.11 L95.43 286.92 L94.88 286.73 L94.33 286.54 L93.78 286.35 L93.23 286.16 L92.68 285.97 L92.13 285.78 L91.58 285.59 L91.03 285.40 L90.48 285.21 L89.93 285.02 L89.38 284.83 L88.83 284.64 L88.28 284.44 L87.73 284.25 L87.18 284.05 L86.63 283.86 L86.08 283.66 L85.53 283.47 L84.98 283.27 L84.42 283.07 L83.87 282.87 L83.32 282.67 L82.77 282.47 L82.22 282.27 L81.67 282.06 L81.12 281.86 L80.57 281.65 L80.02 281.44 L79.47 281.23 L78.92 281.02 L78.37 280.81 L77.82 280.59 L77.27 280.38 L76.72 280.16 L76.17 279.94 L75.62 279.72 L75.07 279.49 L74.52 279.27 L73.97 279.04 L73.42 278.81 L72.87 278.58 L72.32 278.34 L71.77 278.11 L71.22 277.87 L70.67 277.63 L70.12 277.39 L69.57 277.14 L69.02 276.90 L68.47 276.65 L67.92 276.40 L67.37 276.15 L66.82 275.90 L66.27 275.66 L65.72 275.41 L65.17 275.16 L64.62 274.92 L64.07 274.69 L63.52 274.46 L62.97 274.25 L62.41 274.04 L61.86 273.86 L61.31 273.70 L60.76 273.57 L60.21 273.49 L59.66 273.45 L59.11 273.50 L58.56 273.64 L58.01 273.91 L57.46 274.37 L56.91 275.10Z" fill="#e0e0e0"/>
<path d="M56.91 247.10 L57.46 248.16 L58.01 249.18 L58.56 250.17 L59.11 251.11 L59.66 252.03 L60.21 252.91 L60.76 253.76 L61.31 254.58 L61.86 255.38 L62.41 256.15 L62.97 256.90 L63.52 257.62 L64.07 258.33 L64.62 259.02 L65.17 259.68 L65.72 260.33 L66.27 260.97 L66.82 261.59 L67.37 262.19 L67.92 262.78 L68.47 263.35 L69.02 263.91 L69.57 264.46 L70.12 265.00 L70.67 265.52 L71.22 266.03 L71.77 266.54 L72.32 267.03 L72.87 267.51 L73.42 267.99 L73.97 268.45 L74.52 268.91 L75.07 269.36 L75.62 269.80 L76.17 270.23 L76.72 270.66 L77.27 271.08 L77.82 271.49 L78.37 271.89 L78.92 272.29 L79.47 272.68 L80.02 273.07 L80.57 273.45 L81.12 273.83 L81.67 274.20 L82.22 274.56 L82.77 274.92 L83.32 275.27 L83.87 275.62 L84.42 275.97 L84.98 276.31 L85.53 276.65 L86.08 276.98 L86.63 277.31 L87.18 277.63 L87.73 277.95 L88.28 278.27 L88.83 278.59 L89.38 278.90 L89.93 279.20 L90.48 279.51 L91.03 279.81 L91.58 280.10 L92.13 280.40 L92.68 280.69 L93.23 280.98 L93.78 281.26 L94.33 281.55 L94.88 281.83 L95.43 282.11 L95.98 282.38 L96.53 282.66 L97.08 282.93 L97.63 283.19 L98.18 283.46 L98.73 283.73 L99.28 283.99 L99.83 284.25 L100.38 284.51 L100.93 284.76 L101.48 285.02 L102.03 285.27 L102.58 285.52 L103.13 285.77 L103.68 286.02 L104.23 286.26 L104.78 286.50 L105.33 286.75 L105.88 286.99 L106.44 287.23 L106.99 287.47 L107.54 287.70 L108.09 287.94 L108.64 288.17 L109.19 288.40 L109.74 288.63 L110.29 288.86 L110.84 289.09 L111.39 289.32 L111.94 289.55 L112.49 289.77 L113.04 290.00 L113.59 290.22 L114.14 290.44 L114.69 290.66 L115.24 290.89 L115.79 291.10 L116.34 291.32 L116.89 291.54 L117.44 291.76 L117.99 291.97 L118.54 292.19 L119.09 292.40 L119.64 292.62 L120.19 292.83 L120.74 293.04 L121.29 293.25 L121.84 293.47 L122.39 293.68 L122.94 293.89 L123.49 294.09 L124.04 294.30 L124.59 294.51 L125.14 294.72 L125.69 294.93 L126.24 295.13 L126.79 295.34 L127.34 295.54 L127.89 295.75 L128.44 295.95 L129.00 296.16 L129.55 296.36 L130.10 296.57 L130.65 296.77 L131.20 296.97 L131.75 297.18 L132.30 297.38 L132.85 297.58 L133.40 297.78 L133.95 297.99 L134.50 298.19 L135.05 298.39 L135.60 298.59 L136.15 298.79 L136.70 298.99 L137.25 299.20 L137.80 299.40 L138.35 299.60 L138.90 299.80 L139.45 300.00 L140.00 300.20 L140.55 300.40 L141.10 300.60 L141.65 300.80 L142.20 301.01 L142.75 301.21 L143.30 301.41 L143.85 301.61 L144.40 301.81 L144.95 302.01 L145.50 302.22 L146.05 302.42 L146.60 302.62 L147.15 302.82 L147.70 303.03 L148.25 303.23 L148.80 303.43 L149.35 303.64 L149.90 303.84 L150.46 304.05 L151.01 304.25 L151.56 304.46 L152.11 304.66 L152.66 304.87 L153.21 305.07 L153.76 305.28 L154.31 305.49 L154.86 305.70 L155.41 305.91 L155.96 306.11 L156.51 306.32 L157.06 306.53 L157.61 306.75 L158.16 306.96 L158.71 307.17 L159.26 307.38 L159.81 307.60 L160.36 307.81 L160.91 308.03 L161.46 308.24 L162.01 308.46 L162.56 308.68 L163.11 308.90 L163.66 309.11 L164.21 309.34 L164.76 309.56 L165.31 309.78 L165.86 310.00 L166.41 310.23 L166.96 310.45 L167.51 310.68 L168.06 310.91 L168.61 311.14 L169.16 311.37 L169.71 311.60 L170.26 311.83 L170.81 312.06 L171.36 312.30 L171.91 312.53 L172.47 312.77 L173.02 313.01 L173.57 313.25 L174.12 313.50 L174.67 313.74 L175.22 313.98 L175.77 314.23 L176.32 314.48 L176.87 314.73 L177.42 314.98 L177.97 315.24 L178.52 315.49 L179.07 315.75 L179.62 316.01 L180.17 316.27 L180.72 316.54 L181.27 316.81 L181.82 317.07 L182.37 317.34 L182.92 317.62 L183.47 317.89 L184.02 318.17 L184.57 318.45 L185.12 318.74 L185.67 319.02 L186.22 319.31 L186.77 319.60 L187.32 319.90 L187.87 320.19 L188.42 320.49 L188.97 320.80 L189.52 321.10 L190.07 321.41 L190.62 321.73 L191.17 322.05 L191.72 322.37 L192.27 322.69 L192.82 323.02 L193.37 323.35 L193.92 323.69 L194.47 324.03 L195.03 324.38 L195.58 324.73 L196.13 325.08 L196.68 325.44 L197.23 325.80 L197.78 326.17 L198.33 326.55 L198.88 326.93 L199.43 327.32 L199.98 327.71 L200.53 328.11 L201.08 328.51 L201.63 328.92 L202.18 329.34 L202.73 329.77 L203.28 330.20 L203.83 330.64 L204.38 331.09 L204.93 331.55 L205.48 332.01 L206.03 332.49 L206.58 332.97 L207.13 333.46 L207.68 333.97 L208.23 334.48 L208.78 335.00 L209.33 335.54 L209.88 336.09 L210.43 336.65 L210.98 337.22 L211.53 337.81 L212.08 338.41 L212.63 339.03 L213.18 339.67 L213.73 340.32 L214.28 340.98 L214.83 341.67 L215.38 342.38 L215.93 343.10 L216.48 343.85 L217.04 344.62 L217.59 345.42 L218.14 346.24 L218.69 347.09 L219.24 347.97 L219.79 348.89 L220.34 349.83 L220.89 350.82 L221.44 351.84 L221.99 352.90" stroke="#d6417a" stroke-width="1.05" fill="none" stroke-linejoin="round"/>
<path d="M24.50 213.30V387.20H254.50" stroke="#8a8a8a" stroke-width="1" fill="none"/>
<path d="M21.70 218.60H24.50 M21.70 255.65H24.50 M21.70 292.70H24.50 M21.70 329.75H24.50 M21.70 366.80H24.50 M29.40 387.20V389.80 M84.42 387.20V389.80 M139.45 387.20V389.80 M194.47 387.20V389.80 M249.50 387.20V389.80" stroke="#8a8a8a" stroke-width="0.9" fill="none"/>
<text x="20.10" y="221.25" text-anchor="end" fill="#141414">4</text>
<text x="20.10" y="258.30" text-anchor="end" fill="#141414">2</text>
<text x="20.10" y="295.35" text-anchor="end" fill="#141414">0</text>
<text x="20.10" y="332.40" text-anchor="end" fill="#141414">-2</text>
<text x="20.10" y="369.45" text-anchor="end" fill="#141414">-4</text>
<text x="29.40" y="399.00" text-anchor="middle" fill="#141414">-1</text>
<text x="84.42" y="399.00" text-anchor="middle" fill="#141414">-.5</text>
<text x="139.45" y="399.00" text-anchor="middle" fill="#141414">0</text>
<text x="194.47" y="399.00" text-anchor="middle" fill="#141414">.5</text>
<text x="249.50" y="399.00" text-anchor="middle" fill="#141414">1</text>
<text x="139.45" y="408.20" text-anchor="middle" fill="#141414">postulated endogeneity of PAT_EVN_MGT</text>
<text transform="translate(7.00 300.25) rotate(-90)" text-anchor="middle" fill="#141414" style="stroke-width:0.08px">PAT_EVN_MGT coefficient estimate</text>
<rect x="260.20" y="291.60" width="17" height="7.3" fill="#e0e0e0"/>
<path d="M260.20 305.80H277.20" stroke="#d6417a" stroke-width="1.1"/>
<text x="281.70" y="298.10" fill="#141414">KLS &gt;=95% CI</text>
<text x="281.70" y="308.20" fill="#141414">KLS estimate</text>
<path d="M381.00 218.40H608.50 M381.00 250.10H608.50 M381.00 281.80H608.50 M381.00 313.50H608.50 M381.00 345.20H608.50 M381.00 376.90H608.50 M385.50 213.30V386.70 M440.05 213.30V386.70 M494.60 213.30V386.70 M549.15 213.30V386.70 M603.70 213.30V386.70" stroke="#eeeeee" stroke-width="0.85" stroke-dasharray="4 2.4" fill="none"/>
<path d="M412.77 233.60 L413.32 234.96 L413.87 236.25 L414.41 237.49 L414.96 238.68 L415.50 239.82 L416.05 240.93 L416.59 242.01 L417.14 243.06 L417.68 244.07 L418.23 245.07 L418.78 246.04 L419.32 246.98 L419.87 247.91 L420.41 248.81 L420.96 249.70 L421.50 250.57 L422.05 251.42 L422.59 252.25 L423.14 253.07 L423.69 253.87 L424.23 254.66 L424.78 255.43 L425.32 256.19 L425.87 256.94 L426.41 257.67 L426.96 258.39 L427.50 259.10 L428.05 259.80 L428.59 260.48 L429.14 261.16 L429.69 261.82 L430.23 262.47 L430.78 263.12 L431.32 263.75 L431.87 264.37 L432.41 264.99 L432.96 265.59 L433.50 266.19 L434.05 266.77 L434.60 267.35 L435.14 267.92 L435.69 268.48 L436.23 269.04 L436.78 269.58 L437.32 270.12 L437.87 270.65 L438.41 271.18 L438.96 271.69 L439.50 272.20 L440.05 272.71 L440.60 273.20 L441.14 273.69 L441.69 274.18 L442.23 274.65 L442.78 275.12 L443.32 275.59 L443.87 276.05 L444.41 276.50 L444.96 276.95 L445.50 277.39 L446.05 277.82 L446.60 278.26 L447.14 278.68 L447.69 279.10 L448.23 279.52 L448.78 279.93 L449.32 280.33 L449.87 280.73 L450.41 281.13 L450.96 281.52 L451.51 281.91 L452.05 282.29 L452.60 282.67 L453.14 283.04 L453.69 283.41 L454.23 283.77 L454.78 284.14 L455.32 284.49 L455.87 284.85 L456.42 285.20 L456.96 285.54 L457.51 285.88 L458.05 286.22 L458.60 286.56 L459.14 286.89 L459.69 287.22 L460.23 287.54 L460.78 287.86 L461.32 288.18 L461.87 288.50 L462.42 288.81 L462.96 289.12 L463.51 289.43 L464.05 289.73 L464.60 290.03 L465.14 290.33 L465.69 290.62 L466.23 290.92 L466.78 291.21 L467.33 291.49 L467.87 291.78 L468.42 292.06 L468.96 292.34 L469.51 292.62 L470.05 292.89 L470.60 293.17 L471.14 293.44 L471.69 293.71 L472.23 293.98 L472.78 294.24 L473.33 294.50 L473.87 294.77 L474.42 295.03 L474.96 295.28 L475.51 295.54 L476.05 295.79 L476.60 296.05 L477.14 296.30 L477.69 296.55 L478.24 296.80 L478.78 297.04 L479.33 297.29 L479.87 297.53 L480.42 297.78 L480.96 298.02 L481.51 298.26 L482.05 298.50 L482.60 298.74 L483.14 298.97 L483.69 299.21 L484.24 299.44 L484.78 299.68 L485.33 299.91 L485.87 300.15 L486.42 300.38 L486.96 300.61 L487.51 300.84 L488.05 301.07 L488.60 301.30 L489.14 301.53 L489.69 301.76 L490.24 301.98 L490.78 302.21 L491.33 302.44 L491.87 302.67 L492.42 302.89 L492.96 303.12 L493.51 303.35 L494.05 303.57 L494.60 303.80 L495.15 304.03 L495.69 304.25 L496.24 304.48 L496.78 304.70 L497.33 304.93 L497.87 305.16 L498.42 305.38 L498.96 305.61 L499.51 305.83 L500.06 306.06 L500.60 306.29 L501.15 306.51 L501.69 306.74 L502.24 306.96 L502.78 307.19 L503.33 307.41 L503.87 307.64 L504.42 307.86 L504.96 308.09 L505.51 308.31 L506.06 308.54 L506.60 308.76 L507.15 308.98 L507.69 309.21 L508.24 309.43 L508.78 309.66 L509.33 309.88 L509.87 310.11 L510.42 310.33 L510.97 310.55 L511.51 310.78 L512.06 311.00 L512.60 311.22 L513.15 311.45 L513.69 311.67 L514.24 311.89 L514.78 312.11 L515.33 312.34 L515.87 312.56 L516.42 312.78 L516.97 313.00 L517.51 313.23 L518.06 313.45 L518.60 313.67 L519.15 313.89 L519.69 314.11 L520.24 314.33 L520.78 314.56 L521.33 314.78 L521.88 315.00 L522.42 315.22 L522.97 315.44 L523.51 315.66 L524.06 315.88 L524.60 316.10 L525.15 316.32 L525.69 316.55 L526.24 316.77 L526.78 316.99 L527.33 317.21 L527.88 317.43 L528.42 317.65 L528.97 317.87 L529.51 318.09 L530.06 318.31 L530.60 318.53 L531.15 318.75 L531.69 318.98 L532.24 319.20 L532.79 319.42 L533.33 319.64 L533.88 319.86 L534.42 320.08 L534.97 320.31 L535.51 320.53 L536.06 320.75 L536.60 320.97 L537.15 321.20 L537.69 321.42 L538.24 321.64 L538.79 321.87 L539.33 322.09 L539.88 322.32 L540.42 322.54 L540.97 322.77 L541.51 322.99 L542.06 323.22 L542.60 323.45 L543.15 323.67 L543.70 323.90 L544.24 324.13 L544.79 324.36 L545.33 324.59 L545.88 324.82 L546.42 325.05 L546.97 325.29 L547.51 325.52 L548.06 325.76 L548.60 325.99 L549.15 326.23 L549.70 326.47 L550.24 326.71 L550.79 326.95 L551.33 327.19 L551.88 327.43 L552.42 327.68 L552.97 327.92 L553.51 328.17 L554.06 328.42 L554.61 328.67 L555.15 328.92 L555.70 329.18 L556.24 329.43 L556.79 329.69 L557.33 329.95 L557.88 330.21 L558.42 330.48 L558.97 330.74 L559.51 331.01 L560.06 331.28 L560.61 331.56 L561.15 331.83 L561.70 332.11 L562.24 332.39 L562.79 332.68 L563.33 332.96 L563.88 333.25 L564.42 333.54 L564.97 333.83 L565.51 334.13 L566.06 334.42 L566.61 334.72 L567.15 335.02 L567.70 335.33 L568.24 335.63 L568.79 335.93 L569.33 336.23 L569.88 336.53 L570.42 336.83 L570.97 337.12 L571.52 337.40 L572.06 337.67 L572.61 337.93 L573.15 338.18 L573.70 338.39 L574.24 338.57 L574.79 338.71 L575.33 338.78 L575.88 338.75 L576.43 338.60 L576.43 383.00 L575.88 381.43 L575.33 379.98 L574.79 378.60 L574.24 377.30 L573.70 376.06 L573.15 374.86 L572.61 373.71 L572.06 372.60 L571.52 371.52 L570.97 370.48 L570.42 369.46 L569.88 368.47 L569.33 367.51 L568.79 366.56 L568.24 365.64 L567.70 364.74 L567.15 363.86 L566.61 363.00 L566.06 362.16 L565.51 361.33 L564.97 360.52 L564.42 359.73 L563.88 358.95 L563.33 358.18 L562.79 357.43 L562.24 356.69 L561.70 355.97 L561.15 355.26 L560.61 354.56 L560.06 353.87 L559.51 353.19 L558.97 352.52 L558.42 351.87 L557.88 351.22 L557.33 350.59 L556.79 349.96 L556.24 349.35 L555.70 348.74 L555.15 348.14 L554.61 347.55 L554.06 346.97 L553.51 346.40 L552.97 345.84 L552.42 345.28 L551.88 344.74 L551.33 344.20 L550.79 343.67 L550.24 343.14 L549.70 342.63 L549.15 342.12 L548.60 341.61 L548.06 341.12 L547.51 340.63 L546.97 340.14 L546.42 339.67 L545.88 339.20 L545.33 338.73 L544.79 338.27 L544.24 337.82 L543.70 337.37 L543.15 336.93 L542.60 336.50 L542.06 336.07 L541.51 335.64 L540.97 335.22 L540.42 334.81 L539.88 334.40 L539.33 333.99 L538.79 333.59 L538.24 333.20 L537.69 332.80 L537.15 332.42 L536.60 332.04 L536.06 331.66 L535.51 331.29 L534.97 330.92 L534.42 330.55 L533.88 330.19 L533.33 329.84 L532.79 329.48 L532.24 329.13 L531.69 328.79 L531.15 328.45 L530.60 328.11 L530.06 327.78 L529.51 327.44 L528.97 327.12 L528.42 326.79 L527.88 326.47 L527.33 326.15 L526.78 325.84 L526.24 325.53 L525.69 325.22 L525.15 324.91 L524.60 324.61 L524.06 324.31 L523.51 324.01 L522.97 323.72 L522.42 323.43 L521.88 323.14 L521.33 322.85 L520.78 322.57 L520.24 322.29 L519.69 322.01 L519.15 321.73 L518.60 321.46 L518.06 321.18 L517.51 320.91 L516.97 320.64 L516.42 320.38 L515.87 320.11 L515.33 319.85 L514.78 319.59 L514.24 319.33 L513.69 319.07 L513.15 318.82 L512.60 318.57 L512.06 318.31 L511.51 318.06 L510.97 317.81 L510.42 317.57 L509.87 317.32 L509.33 317.07 L508.78 316.83 L508.24 316.59 L507.69 316.35 L507.15 316.11 L506.60 315.87 L506.06 315.63 L505.51 315.39 L504.96 315.16 L504.42 314.92 L503.87 314.69 L503.33 314.46 L502.78 314.22 L502.24 313.99 L501.69 313.76 L501.15 313.53 L500.60 313.30 L500.06 313.07 L499.51 312.84 L498.96 312.62 L498.42 312.39 L497.87 312.16 L497.33 311.93 L496.78 311.71 L496.24 311.48 L495.69 311.25 L495.15 311.03 L494.60 310.80 L494.05 310.57 L493.51 310.35 L492.96 310.12 L492.42 309.89 L491.87 309.67 L491.33 309.44 L490.78 309.22 L490.24 308.99 L489.69 308.77 L489.14 308.54 L488.60 308.31 L488.05 308.09 L487.51 307.86 L486.96 307.64 L486.42 307.41 L485.87 307.19 L485.33 306.97 L484.78 306.74 L484.24 306.52 L483.69 306.29 L483.14 306.07 L482.60 305.85 L482.05 305.63 L481.51 305.40 L480.96 305.18 L480.42 304.96 L479.87 304.74 L479.33 304.52 L478.78 304.30 L478.24 304.08 L477.69 303.86 L477.14 303.64 L476.60 303.42 L476.05 303.20 L475.51 302.98 L474.96 302.77 L474.42 302.55 L473.87 302.33 L473.33 302.12 L472.78 301.90 L472.23 301.69 L471.69 301.47 L471.14 301.26 L470.60 301.05 L470.05 300.83 L469.51 300.62 L468.96 300.41 L468.42 300.20 L467.87 299.99 L467.33 299.78 L466.78 299.57 L466.23 299.36 L465.69 299.15 L465.14 298.94 L464.60 298.73 L464.05 298.53 L463.51 298.32 L462.96 298.12 L462.42 297.91 L461.87 297.71 L461.32 297.50 L460.78 297.30 L460.23 297.10 L459.69 296.90 L459.14 296.69 L458.60 296.49 L458.05 296.29 L457.51 296.09 L456.96 295.89 L456.42 295.70 L455.87 295.50 L455.32 295.30 L454.78 295.10 L454.23 294.91 L453.69 294.71 L453.14 294.51 L452.60 294.32 L452.05 294.12 L451.51 293.93 L450.96 293.73 L450.41 293.54 L449.87 293.35 L449.32 293.16 L448.78 292.96 L448.23 292.77 L447.69 292.58 L447.14 292.39 L446.60 292.19 L446.05 292.00 L445.50 291.81 L444.96 291.62 L444.41 291.43 L443.87 291.24 L443.32 291.04 L442.78 290.85 L442.23 290.66 L441.69 290.47 L441.14 290.28 L440.60 290.08 L440.05 289.89 L439.50 289.70 L438.96 289.50 L438.41 289.31 L437.87 289.12 L437.32 288.92 L436.78 288.72 L436.23 288.53 L435.69 288.33 L435.14 288.13 L434.60 287.93 L434.05 287.72 L433.50 287.52 L432.96 287.32 L432.41 287.11 L431.87 286.90 L431.32 286.69 L430.78 286.48 L430.23 286.27 L429.69 286.05 L429.14 285.83 L428.59 285.61 L428.05 285.38 L427.50 285.16 L426.96 284.93 L426.41 284.69 L425.87 284.46 L425.32 284.22 L424.78 283.97 L424.23 283.72 L423.69 283.47 L423.14 283.21 L422.59 282.95 L422.05 282.68 L421.50 282.41 L420.96 282.13 L420.41 281.85 L419.87 281.56 L419.32 281.27 L418.78 280.97 L418.23 280.66 L417.68 280.35 L417.14 280.03 L416.59 279.71 L416.05 279.38 L415.50 279.04 L414.96 278.71 L414.41 278.37 L413.87 278.04 L413.32 277.71 L412.77 277.40Z" fill="#e0e0e0"/>
<path d="M412.77 254.60 L413.32 255.43 L413.87 256.25 L414.41 257.04 L414.96 257.81 L415.50 258.56 L416.05 259.29 L416.59 260.01 L417.14 260.70 L417.68 261.39 L418.23 262.05 L418.78 262.70 L419.32 263.34 L419.87 263.97 L420.41 264.58 L420.96 265.18 L421.50 265.76 L422.05 266.34 L422.59 266.90 L423.14 267.46 L423.69 268.00 L424.23 268.54 L424.78 269.06 L425.32 269.58 L425.87 270.09 L426.41 270.58 L426.96 271.07 L427.50 271.56 L428.05 272.03 L428.59 272.50 L429.14 272.96 L429.69 273.42 L430.23 273.86 L430.78 274.30 L431.32 274.74 L431.87 275.17 L432.41 275.59 L432.96 276.01 L433.50 276.42 L434.05 276.83 L434.60 277.23 L435.14 277.62 L435.69 278.02 L436.23 278.40 L436.78 278.78 L437.32 279.16 L437.87 279.54 L438.41 279.91 L438.96 280.27 L439.50 280.63 L440.05 280.99 L440.60 281.34 L441.14 281.69 L441.69 282.04 L442.23 282.38 L442.78 282.72 L443.32 283.06 L443.87 283.39 L444.41 283.72 L444.96 284.05 L445.50 284.37 L446.05 284.69 L446.60 285.01 L447.14 285.33 L447.69 285.64 L448.23 285.95 L448.78 286.26 L449.32 286.57 L449.87 286.87 L450.41 287.17 L450.96 287.47 L451.51 287.76 L452.05 288.06 L452.60 288.35 L453.14 288.64 L453.69 288.93 L454.23 289.21 L454.78 289.50 L455.32 289.78 L455.87 290.06 L456.42 290.34 L456.96 290.62 L457.51 290.89 L458.05 291.17 L458.60 291.44 L459.14 291.71 L459.69 291.98 L460.23 292.24 L460.78 292.51 L461.32 292.77 L461.87 293.04 L462.42 293.30 L462.96 293.56 L463.51 293.82 L464.05 294.07 L464.60 294.33 L465.14 294.59 L465.69 294.84 L466.23 295.09 L466.78 295.35 L467.33 295.60 L467.87 295.85 L468.42 296.10 L468.96 296.34 L469.51 296.59 L470.05 296.84 L470.60 297.08 L471.14 297.33 L471.69 297.57 L472.23 297.81 L472.78 298.05 L473.33 298.29 L473.87 298.53 L474.42 298.77 L474.96 299.01 L475.51 299.25 L476.05 299.49 L476.60 299.72 L477.14 299.96 L477.69 300.19 L478.24 300.43 L478.78 300.66 L479.33 300.90 L479.87 301.13 L480.42 301.36 L480.96 301.60 L481.51 301.83 L482.05 302.06 L482.60 302.29 L483.14 302.52 L483.69 302.75 L484.24 302.98 L484.78 303.21 L485.33 303.44 L485.87 303.67 L486.42 303.90 L486.96 304.12 L487.51 304.35 L488.05 304.58 L488.60 304.81 L489.14 305.03 L489.69 305.26 L490.24 305.49 L490.78 305.71 L491.33 305.94 L491.87 306.17 L492.42 306.39 L492.96 306.62 L493.51 306.85 L494.05 307.07 L494.60 307.30 L495.15 307.53 L495.69 307.75 L496.24 307.98 L496.78 308.21 L497.33 308.43 L497.87 308.66 L498.42 308.89 L498.96 309.11 L499.51 309.34 L500.06 309.57 L500.60 309.79 L501.15 310.02 L501.69 310.25 L502.24 310.48 L502.78 310.70 L503.33 310.93 L503.87 311.16 L504.42 311.39 L504.96 311.62 L505.51 311.85 L506.06 312.08 L506.60 312.31 L507.15 312.54 L507.69 312.77 L508.24 313.00 L508.78 313.24 L509.33 313.47 L509.87 313.70 L510.42 313.94 L510.97 314.17 L511.51 314.41 L512.06 314.64 L512.60 314.88 L513.15 315.11 L513.69 315.35 L514.24 315.59 L514.78 315.83 L515.33 316.07 L515.87 316.31 L516.42 316.55 L516.97 316.79 L517.51 317.03 L518.06 317.27 L518.60 317.52 L519.15 317.76 L519.69 318.01 L520.24 318.26 L520.78 318.50 L521.33 318.75 L521.88 319.00 L522.42 319.25 L522.97 319.51 L523.51 319.76 L524.06 320.01 L524.60 320.27 L525.15 320.53 L525.69 320.78 L526.24 321.04 L526.78 321.30 L527.33 321.56 L527.88 321.83 L528.42 322.09 L528.97 322.36 L529.51 322.62 L530.06 322.89 L530.60 323.16 L531.15 323.43 L531.69 323.71 L532.24 323.98 L532.79 324.26 L533.33 324.54 L533.88 324.82 L534.42 325.10 L534.97 325.39 L535.51 325.67 L536.06 325.96 L536.60 326.25 L537.15 326.54 L537.69 326.84 L538.24 327.13 L538.79 327.43 L539.33 327.73 L539.88 328.03 L540.42 328.34 L540.97 328.65 L541.51 328.96 L542.06 329.27 L542.60 329.59 L543.15 329.91 L543.70 330.23 L544.24 330.55 L544.79 330.88 L545.33 331.21 L545.88 331.54 L546.42 331.88 L546.97 332.22 L547.51 332.56 L548.06 332.91 L548.60 333.26 L549.15 333.61 L549.70 333.97 L550.24 334.33 L550.79 334.69 L551.33 335.06 L551.88 335.44 L552.42 335.82 L552.97 336.20 L553.51 336.58 L554.06 336.98 L554.61 337.37 L555.15 337.77 L555.70 338.18 L556.24 338.59 L556.79 339.01 L557.33 339.43 L557.88 339.86 L558.42 340.30 L558.97 340.74 L559.51 341.18 L560.06 341.64 L560.61 342.10 L561.15 342.57 L561.70 343.04 L562.24 343.53 L562.79 344.02 L563.33 344.51 L563.88 345.02 L564.42 345.54 L564.97 346.06 L565.51 346.60 L566.06 347.14 L566.61 347.70 L567.15 348.26 L567.70 348.84 L568.24 349.42 L568.79 350.02 L569.33 350.63 L569.88 351.26 L570.42 351.90 L570.97 352.55 L571.52 353.21 L572.06 353.90 L572.61 354.59 L573.15 355.31 L573.70 356.04 L574.24 356.79 L574.79 357.56 L575.33 358.35 L575.88 359.17 L576.43 360.00" stroke="#d6417a" stroke-width="1.05" fill="none" stroke-linejoin="round"/>
<path d="M380.50 213.30V387.20H608.50" stroke="#8a8a8a" stroke-width="1" fill="none"/>
<path d="M377.70 218.40H380.50 M377.70 250.10H380.50 M377.70 281.80H380.50 M377.70 313.50H380.50 M377.70 345.20H380.50 M377.70 376.90H380.50 M385.50 387.20V389.80 M440.05 387.20V389.80 M494.60 387.20V389.80 M549.15 387.20V389.80 M603.70 387.20V389.80" stroke="#8a8a8a" stroke-width="0.9" fill="none"/>
<text x="376.10" y="221.05" text-anchor="end" fill="#141414">.3</text>
<text x="376.10" y="252.75" text-anchor="end" fill="#141414">.2</text>
<text x="376.10" y="284.45" text-anchor="end" fill="#141414">.1</text>
<text x="376.10" y="316.15" text-anchor="end" fill="#141414">0</text>
<text x="376.10" y="347.85" text-anchor="end" fill="#141414">-.1</text>
<text x="376.10" y="379.55" text-anchor="end" fill="#141414">-.2</text>
<text x="385.50" y="399.00" text-anchor="middle" fill="#141414">-1</text>
<text x="440.05" y="399.00" text-anchor="middle" fill="#141414">-.5</text>
<text x="494.60" y="399.00" text-anchor="middle" fill="#141414">0</text>
<text x="549.15" y="399.00" text-anchor="middle" fill="#141414">.5</text>
<text x="603.70" y="399.00" text-anchor="middle" fill="#141414">1</text>
<text x="494.60" y="408.20" text-anchor="middle" fill="#141414">postulated endogeneity of ODA_CCMT</text>
<text transform="translate(361.20 300.25) rotate(-90)" text-anchor="middle" fill="#141414" style="stroke-width:0.08px">ODA_CCMT coefficient estimate</text>
<rect x="614.10" y="291.60" width="17" height="7.3" fill="#e0e0e0"/>
<path d="M614.10 305.80H631.10" stroke="#d6417a" stroke-width="1.1"/>
<text x="635.60" y="298.10" fill="#141414">KLS &gt;=95% CI</text>
<text x="635.60" y="308.20" fill="#141414">KLS estimate</text>
<path d="M25.00 434.30H254.50 M25.00 506.95H254.50 M25.00 579.60H254.50 M29.40 425.90V598.50 M84.47 425.90V598.50 M139.55 425.90V598.50 M194.62 425.90V598.50 M249.70 425.90V598.50" stroke="#eeeeee" stroke-width="0.85" stroke-dasharray="4 2.4" fill="none"/>
<path d="M56.94 430.80 L57.49 433.33 L58.04 435.61 L58.59 437.69 L59.14 439.62 L59.69 441.41 L60.24 443.10 L60.79 444.69 L61.34 446.21 L61.89 447.65 L62.45 449.02 L63.00 450.34 L63.55 451.61 L64.10 452.83 L64.65 454.01 L65.20 455.15 L65.75 456.25 L66.30 457.32 L66.85 458.36 L67.40 459.36 L67.95 460.34 L68.50 461.29 L69.05 462.22 L69.60 463.12 L70.16 464.00 L70.71 464.86 L71.26 465.69 L71.81 466.51 L72.36 467.31 L72.91 468.09 L73.46 468.86 L74.01 469.60 L74.56 470.34 L75.11 471.05 L75.66 471.76 L76.21 472.45 L76.76 473.12 L77.32 473.78 L77.87 474.43 L78.42 475.07 L78.97 475.69 L79.52 476.30 L80.07 476.91 L80.62 477.50 L81.17 478.08 L81.72 478.65 L82.27 479.21 L82.82 479.76 L83.37 480.30 L83.92 480.83 L84.47 481.35 L85.03 481.87 L85.58 482.37 L86.13 482.87 L86.68 483.36 L87.23 483.84 L87.78 484.32 L88.33 484.78 L88.88 485.24 L89.43 485.69 L89.98 486.14 L90.53 486.57 L91.08 487.01 L91.63 487.43 L92.19 487.85 L92.74 488.26 L93.29 488.67 L93.84 489.06 L94.39 489.46 L94.94 489.85 L95.49 490.23 L96.04 490.61 L96.59 490.98 L97.14 491.34 L97.69 491.70 L98.24 492.06 L98.79 492.41 L99.35 492.76 L99.90 493.10 L100.45 493.43 L101.00 493.76 L101.55 494.09 L102.10 494.41 L102.65 494.73 L103.20 495.05 L103.75 495.36 L104.30 495.66 L104.85 495.97 L105.40 496.26 L105.95 496.56 L106.50 496.85 L107.06 497.14 L107.61 497.42 L108.16 497.70 L108.71 497.98 L109.26 498.25 L109.81 498.52 L110.36 498.79 L110.91 499.05 L111.46 499.31 L112.01 499.57 L112.56 499.82 L113.11 500.08 L113.66 500.32 L114.22 500.57 L114.77 500.81 L115.32 501.06 L115.87 501.29 L116.42 501.53 L116.97 501.76 L117.52 502.00 L118.07 502.22 L118.62 502.45 L119.17 502.68 L119.72 502.90 L120.27 503.12 L120.82 503.34 L121.38 503.56 L121.93 503.77 L122.48 503.98 L123.03 504.19 L123.58 504.40 L124.13 504.61 L124.68 504.82 L125.23 505.02 L125.78 505.23 L126.33 505.43 L126.88 505.63 L127.43 505.83 L127.98 506.03 L128.53 506.22 L129.09 506.42 L129.64 506.62 L130.19 506.81 L130.74 507.00 L131.29 507.19 L131.84 507.39 L132.39 507.58 L132.94 507.77 L133.49 507.95 L134.04 508.14 L134.59 508.33 L135.14 508.52 L135.69 508.70 L136.25 508.89 L136.80 509.08 L137.35 509.26 L137.90 509.45 L138.45 509.63 L139.00 509.82 L139.55 510.00 L140.10 510.18 L140.65 510.37 L141.20 510.55 L141.75 510.74 L142.30 510.92 L142.85 511.10 L143.41 511.29 L143.96 511.47 L144.51 511.66 L145.06 511.84 L145.61 512.02 L146.16 512.20 L146.71 512.39 L147.26 512.57 L147.81 512.75 L148.36 512.93 L148.91 513.11 L149.46 513.30 L150.01 513.48 L150.56 513.66 L151.12 513.84 L151.67 514.02 L152.22 514.20 L152.77 514.38 L153.32 514.56 L153.87 514.74 L154.42 514.91 L154.97 515.09 L155.52 515.27 L156.07 515.45 L156.62 515.63 L157.17 515.80 L157.72 515.98 L158.28 516.16 L158.83 516.33 L159.38 516.51 L159.93 516.68 L160.48 516.86 L161.03 517.03 L161.58 517.21 L162.13 517.38 L162.68 517.55 L163.23 517.73 L163.78 517.90 L164.33 518.07 L164.88 518.24 L165.44 518.41 L165.99 518.58 L166.54 518.76 L167.09 518.93 L167.64 519.10 L168.19 519.26 L168.74 519.43 L169.29 519.60 L169.84 519.77 L170.39 519.94 L170.94 520.11 L171.49 520.27 L172.04 520.44 L172.59 520.61 L173.15 520.77 L173.70 520.94 L174.25 521.10 L174.80 521.27 L175.35 521.43 L175.90 521.60 L176.45 521.76 L177.00 521.92 L177.55 522.09 L178.10 522.25 L178.65 522.41 L179.20 522.57 L179.75 522.74 L180.31 522.90 L180.86 523.06 L181.41 523.22 L181.96 523.38 L182.51 523.54 L183.06 523.71 L183.61 523.87 L184.16 524.03 L184.71 524.19 L185.26 524.35 L185.81 524.51 L186.36 524.67 L186.91 524.83 L187.47 525.00 L188.02 525.16 L188.57 525.32 L189.12 525.48 L189.67 525.64 L190.22 525.81 L190.77 525.97 L191.32 526.13 L191.87 526.30 L192.42 526.46 L192.97 526.63 L193.52 526.79 L194.07 526.96 L194.62 527.13 L195.18 527.29 L195.73 527.46 L196.28 527.63 L196.83 527.80 L197.38 527.98 L197.93 528.15 L198.48 528.33 L199.03 528.50 L199.58 528.68 L200.13 528.86 L200.68 529.04 L201.23 529.22 L201.78 529.40 L202.34 529.59 L202.89 529.78 L203.44 529.97 L203.99 530.16 L204.54 530.36 L205.09 530.55 L205.64 530.75 L206.19 530.95 L206.74 531.16 L207.29 531.36 L207.84 531.57 L208.39 531.79 L208.94 532.00 L209.50 532.22 L210.05 532.44 L210.60 532.66 L211.15 532.89 L211.70 533.11 L212.25 533.34 L212.80 533.57 L213.35 533.80 L213.90 534.03 L214.45 534.26 L215.00 534.48 L215.55 534.71 L216.10 534.92 L216.65 535.12 L217.21 535.31 L217.76 535.48 L218.31 535.62 L218.86 535.73 L219.41 535.79 L219.96 535.78 L220.51 535.68 L221.06 535.46 L221.61 535.06 L222.16 534.40 L222.16 594.00 L221.61 591.27 L221.06 588.83 L220.51 586.63 L219.96 584.61 L219.41 582.74 L218.86 581.00 L218.31 579.36 L217.76 577.81 L217.21 576.34 L216.65 574.94 L216.10 573.60 L215.55 572.32 L215.00 571.09 L214.45 569.91 L213.90 568.77 L213.35 567.67 L212.80 566.60 L212.25 565.57 L211.70 564.57 L211.15 563.60 L210.60 562.66 L210.05 561.74 L209.50 560.85 L208.94 559.99 L208.39 559.14 L207.84 558.31 L207.29 557.51 L206.74 556.72 L206.19 555.95 L205.64 555.20 L205.09 554.47 L204.54 553.75 L203.99 553.05 L203.44 552.36 L202.89 551.69 L202.34 551.03 L201.78 550.38 L201.23 549.75 L200.68 549.12 L200.13 548.51 L199.58 547.92 L199.03 547.33 L198.48 546.75 L197.93 546.19 L197.38 545.63 L196.83 545.08 L196.28 544.55 L195.73 544.02 L195.18 543.50 L194.62 542.99 L194.07 542.49 L193.52 542.00 L192.97 541.51 L192.42 541.04 L191.87 540.57 L191.32 540.10 L190.77 539.65 L190.22 539.20 L189.67 538.76 L189.12 538.33 L188.57 537.90 L188.02 537.48 L187.47 537.07 L186.91 536.66 L186.36 536.26 L185.81 535.86 L185.26 535.47 L184.71 535.09 L184.16 534.71 L183.61 534.34 L183.06 533.97 L182.51 533.61 L181.96 533.25 L181.41 532.90 L180.86 532.55 L180.31 532.21 L179.75 531.87 L179.20 531.54 L178.65 531.21 L178.10 530.88 L177.55 530.56 L177.00 530.25 L176.45 529.93 L175.90 529.63 L175.35 529.32 L174.80 529.02 L174.25 528.73 L173.70 528.43 L173.15 528.14 L172.59 527.86 L172.04 527.58 L171.49 527.30 L170.94 527.02 L170.39 526.75 L169.84 526.48 L169.29 526.21 L168.74 525.95 L168.19 525.69 L167.64 525.43 L167.09 525.18 L166.54 524.93 L165.99 524.68 L165.44 524.43 L164.88 524.19 L164.33 523.95 L163.78 523.71 L163.23 523.48 L162.68 523.24 L162.13 523.01 L161.58 522.78 L161.03 522.55 L160.48 522.33 L159.93 522.11 L159.38 521.88 L158.83 521.67 L158.28 521.45 L157.72 521.23 L157.17 521.02 L156.62 520.81 L156.07 520.60 L155.52 520.39 L154.97 520.18 L154.42 519.98 L153.87 519.77 L153.32 519.57 L152.77 519.37 L152.22 519.17 L151.67 518.97 L151.12 518.77 L150.56 518.57 L150.01 518.38 L149.46 518.18 L148.91 517.99 L148.36 517.80 L147.81 517.61 L147.26 517.41 L146.71 517.22 L146.16 517.04 L145.61 516.85 L145.06 516.66 L144.51 516.47 L143.96 516.28 L143.41 516.10 L142.85 515.91 L142.30 515.72 L141.75 515.54 L141.20 515.35 L140.65 515.17 L140.10 514.98 L139.55 514.80 L139.00 514.62 L138.45 514.43 L137.90 514.25 L137.35 514.06 L136.80 513.88 L136.25 513.70 L135.69 513.51 L135.14 513.33 L134.59 513.15 L134.04 512.96 L133.49 512.78 L132.94 512.60 L132.39 512.41 L131.84 512.23 L131.29 512.05 L130.74 511.87 L130.19 511.69 L129.64 511.50 L129.09 511.32 L128.53 511.14 L127.98 510.96 L127.43 510.78 L126.88 510.60 L126.33 510.42 L125.78 510.23 L125.23 510.05 L124.68 509.87 L124.13 509.69 L123.58 509.51 L123.03 509.33 L122.48 509.15 L121.93 508.97 L121.38 508.79 L120.82 508.61 L120.27 508.43 L119.72 508.25 L119.17 508.07 L118.62 507.90 L118.07 507.72 L117.52 507.54 L116.97 507.36 L116.42 507.18 L115.87 507.00 L115.32 506.82 L114.77 506.64 L114.22 506.47 L113.66 506.29 L113.11 506.11 L112.56 505.93 L112.01 505.75 L111.46 505.58 L110.91 505.40 L110.36 505.22 L109.81 505.04 L109.26 504.86 L108.71 504.68 L108.16 504.51 L107.61 504.33 L107.06 504.15 L106.50 503.97 L105.95 503.79 L105.40 503.62 L104.85 503.44 L104.30 503.26 L103.75 503.08 L103.20 502.90 L102.65 502.72 L102.10 502.54 L101.55 502.36 L101.00 502.19 L100.45 502.01 L99.90 501.83 L99.35 501.65 L98.79 501.46 L98.24 501.28 L97.69 501.10 L97.14 500.92 L96.59 500.74 L96.04 500.56 L95.49 500.38 L94.94 500.19 L94.39 500.01 L93.84 499.82 L93.29 499.64 L92.74 499.45 L92.19 499.27 L91.63 499.08 L91.08 498.90 L90.53 498.71 L89.98 498.52 L89.43 498.33 L88.88 498.14 L88.33 497.95 L87.78 497.76 L87.23 497.56 L86.68 497.37 L86.13 497.17 L85.58 496.98 L85.03 496.78 L84.47 496.58 L83.92 496.38 L83.37 496.18 L82.82 495.98 L82.27 495.77 L81.72 495.57 L81.17 495.36 L80.62 495.15 L80.07 494.94 L79.52 494.73 L78.97 494.52 L78.42 494.30 L77.87 494.08 L77.32 493.87 L76.76 493.64 L76.21 493.42 L75.66 493.20 L75.11 492.97 L74.56 492.74 L74.01 492.51 L73.46 492.27 L72.91 492.04 L72.36 491.80 L71.81 491.56 L71.26 491.32 L70.71 491.08 L70.16 490.84 L69.60 490.59 L69.05 490.35 L68.50 490.10 L67.95 489.85 L67.40 489.61 L66.85 489.37 L66.30 489.12 L65.75 488.89 L65.20 488.66 L64.65 488.43 L64.10 488.22 L63.55 488.01 L63.00 487.83 L62.45 487.67 L61.89 487.53 L61.34 487.43 L60.79 487.37 L60.24 487.38 L59.69 487.46 L59.14 487.65 L58.59 487.97 L58.04 488.49 L57.49 489.26 L56.94 490.40Z" fill="#e0e0e0"/>
<path d="M56.94 460.60 L57.49 461.78 L58.04 462.90 L58.59 463.98 L59.14 465.00 L59.69 465.99 L60.24 466.93 L60.79 467.84 L61.34 468.71 L61.89 469.55 L62.45 470.36 L63.00 471.14 L63.55 471.89 L64.10 472.62 L64.65 473.33 L65.20 474.02 L65.75 474.68 L66.30 475.33 L66.85 475.95 L67.40 476.56 L67.95 477.16 L68.50 477.73 L69.05 478.30 L69.60 478.84 L70.16 479.38 L70.71 479.90 L71.26 480.41 L71.81 480.91 L72.36 481.40 L72.91 481.87 L73.46 482.34 L74.01 482.80 L74.56 483.24 L75.11 483.68 L75.66 484.11 L76.21 484.53 L76.76 484.95 L77.32 485.35 L77.87 485.75 L78.42 486.14 L78.97 486.53 L79.52 486.91 L80.07 487.28 L80.62 487.65 L81.17 488.01 L81.72 488.36 L82.27 488.71 L82.82 489.06 L83.37 489.40 L83.92 489.73 L84.47 490.06 L85.03 490.38 L85.58 490.71 L86.13 491.02 L86.68 491.33 L87.23 491.64 L87.78 491.95 L88.33 492.25 L88.88 492.54 L89.43 492.84 L89.98 493.13 L90.53 493.41 L91.08 493.70 L91.63 493.98 L92.19 494.26 L92.74 494.53 L93.29 494.80 L93.84 495.07 L94.39 495.34 L94.94 495.60 L95.49 495.86 L96.04 496.12 L96.59 496.37 L97.14 496.63 L97.69 496.88 L98.24 497.13 L98.79 497.37 L99.35 497.62 L99.90 497.86 L100.45 498.10 L101.00 498.34 L101.55 498.58 L102.10 498.81 L102.65 499.05 L103.20 499.28 L103.75 499.51 L104.30 499.74 L104.85 499.96 L105.40 500.19 L105.95 500.41 L106.50 500.63 L107.06 500.85 L107.61 501.07 L108.16 501.29 L108.71 501.51 L109.26 501.72 L109.81 501.94 L110.36 502.15 L110.91 502.36 L111.46 502.57 L112.01 502.78 L112.56 502.99 L113.11 503.20 L113.66 503.40 L114.22 503.61 L114.77 503.81 L115.32 504.02 L115.87 504.22 L116.42 504.42 L116.97 504.62 L117.52 504.82 L118.07 505.02 L118.62 505.22 L119.17 505.42 L119.72 505.61 L120.27 505.81 L120.82 506.01 L121.38 506.20 L121.93 506.40 L122.48 506.59 L123.03 506.78 L123.58 506.97 L124.13 507.17 L124.68 507.36 L125.23 507.55 L125.78 507.74 L126.33 507.93 L126.88 508.12 L127.43 508.31 L127.98 508.50 L128.53 508.69 L129.09 508.87 L129.64 509.06 L130.19 509.25 L130.74 509.43 L131.29 509.62 L131.84 509.81 L132.39 509.99 L132.94 510.18 L133.49 510.37 L134.04 510.55 L134.59 510.74 L135.14 510.92 L135.69 511.11 L136.25 511.29 L136.80 511.48 L137.35 511.66 L137.90 511.85 L138.45 512.03 L139.00 512.22 L139.55 512.40 L140.10 512.58 L140.65 512.77 L141.20 512.95 L141.75 513.14 L142.30 513.32 L142.85 513.51 L143.41 513.69 L143.96 513.88 L144.51 514.06 L145.06 514.25 L145.61 514.43 L146.16 514.62 L146.71 514.81 L147.26 514.99 L147.81 515.18 L148.36 515.37 L148.91 515.55 L149.46 515.74 L150.01 515.93 L150.56 516.11 L151.12 516.30 L151.67 516.49 L152.22 516.68 L152.77 516.87 L153.32 517.06 L153.87 517.25 L154.42 517.44 L154.97 517.63 L155.52 517.83 L156.07 518.02 L156.62 518.21 L157.17 518.40 L157.72 518.60 L158.28 518.79 L158.83 518.99 L159.38 519.19 L159.93 519.38 L160.48 519.58 L161.03 519.78 L161.58 519.98 L162.13 520.18 L162.68 520.38 L163.23 520.58 L163.78 520.78 L164.33 520.99 L164.88 521.19 L165.44 521.40 L165.99 521.60 L166.54 521.81 L167.09 522.02 L167.64 522.23 L168.19 522.44 L168.74 522.65 L169.29 522.86 L169.84 523.08 L170.39 523.29 L170.94 523.51 L171.49 523.73 L172.04 523.95 L172.59 524.17 L173.15 524.39 L173.70 524.61 L174.25 524.84 L174.80 525.06 L175.35 525.29 L175.90 525.52 L176.45 525.75 L177.00 525.99 L177.55 526.22 L178.10 526.46 L178.65 526.70 L179.20 526.94 L179.75 527.18 L180.31 527.43 L180.86 527.67 L181.41 527.92 L181.96 528.17 L182.51 528.43 L183.06 528.68 L183.61 528.94 L184.16 529.20 L184.71 529.46 L185.26 529.73 L185.81 530.00 L186.36 530.27 L186.91 530.54 L187.47 530.82 L188.02 531.10 L188.57 531.39 L189.12 531.67 L189.67 531.96 L190.22 532.26 L190.77 532.55 L191.32 532.85 L191.87 533.16 L192.42 533.47 L192.97 533.78 L193.52 534.09 L194.07 534.42 L194.62 534.74 L195.18 535.07 L195.73 535.40 L196.28 535.74 L196.83 536.09 L197.38 536.44 L197.93 536.79 L198.48 537.15 L199.03 537.52 L199.58 537.89 L200.13 538.27 L200.68 538.66 L201.23 539.05 L201.78 539.45 L202.34 539.85 L202.89 540.27 L203.44 540.69 L203.99 541.12 L204.54 541.56 L205.09 542.00 L205.64 542.46 L206.19 542.93 L206.74 543.40 L207.29 543.89 L207.84 544.39 L208.39 544.90 L208.94 545.42 L209.50 545.96 L210.05 546.50 L210.60 547.07 L211.15 547.64 L211.70 548.24 L212.25 548.85 L212.80 549.47 L213.35 550.12 L213.90 550.78 L214.45 551.47 L215.00 552.18 L215.55 552.91 L216.10 553.66 L216.65 554.44 L217.21 555.25 L217.76 556.09 L218.31 556.96 L218.86 557.87 L219.41 558.81 L219.96 559.80 L220.51 560.82 L221.06 561.90 L221.61 563.02 L222.16 564.20" stroke="#d6417a" stroke-width="1.05" fill="none" stroke-linejoin="round"/>
<path d="M24.50 425.90V599.00H254.50" stroke="#8a8a8a" stroke-width="1" fill="none"/>
<path d="M21.70 434.30H24.50 M21.70 506.95H24.50 M21.70 579.60H24.50 M29.40 599.00V601.60 M84.47 599.00V601.60 M139.55 599.00V601.60 M194.62 599.00V601.60 M249.70 599.00V601.60" stroke="#8a8a8a" stroke-width="0.9" fill="none"/>
<text x="20.10" y="436.95" text-anchor="end" fill="#141414">5</text>
<text x="20.10" y="509.60" text-anchor="end" fill="#141414">0</text>
<text x="20.10" y="582.25" text-anchor="end" fill="#141414">-5</text>
<text x="29.40" y="610.80" text-anchor="middle" fill="#141414">-1</text>
<text x="84.47" y="610.80" text-anchor="middle" fill="#141414">-.5</text>
<text x="139.55" y="610.80" text-anchor="middle" fill="#141414">0</text>
<text x="194.62" y="610.80" text-anchor="middle" fill="#141414">.5</text>
<text x="249.70" y="610.80" text-anchor="middle" fill="#141414">1</text>
<text x="139.55" y="620.00" text-anchor="middle" fill="#141414">postulated endogeneity of PAT_SUS_OCE</text>
<text transform="translate(7.00 512.45) rotate(-90)" text-anchor="middle" fill="#141414" style="stroke-width:0.08px">PAT_SUS_OCE coefficient estimate</text>
<rect x="260.20" y="504.00" width="17" height="7.3" fill="#e0e0e0"/>
<path d="M260.20 518.20H277.20" stroke="#d6417a" stroke-width="1.1"/>
<text x="281.70" y="510.50" fill="#141414">KLS &gt;=95% CI</text>
<text x="281.70" y="520.60" fill="#141414">KLS estimate</text>
<path d="M381.00 430.50H608.80 M381.00 463.38H608.80 M381.00 496.26H608.80 M381.00 529.14H608.80 M381.00 562.02H608.80 M381.00 594.90H608.80 M385.40 425.90V598.80 M439.95 425.90V598.80 M494.50 425.90V598.80 M549.05 425.90V598.80 M603.60 425.90V598.80" stroke="#eeeeee" stroke-width="0.85" stroke-dasharray="4 2.4" fill="none"/>
<path d="M412.67 443.30 L413.22 444.85 L413.77 446.29 L414.31 447.63 L414.86 448.91 L415.40 450.12 L415.95 451.28 L416.49 452.39 L417.04 453.46 L417.58 454.50 L418.13 455.50 L418.68 456.47 L419.22 457.42 L419.77 458.34 L420.31 459.23 L420.86 460.10 L421.40 460.96 L421.95 461.79 L422.49 462.60 L423.04 463.40 L423.58 464.17 L424.13 464.94 L424.68 465.68 L425.22 466.41 L425.77 467.13 L426.31 467.83 L426.86 468.52 L427.40 469.20 L427.95 469.87 L428.49 470.52 L429.04 471.16 L429.59 471.79 L430.13 472.41 L430.68 473.02 L431.22 473.62 L431.77 474.21 L432.31 474.79 L432.86 475.36 L433.40 475.93 L433.95 476.48 L434.50 477.02 L435.04 477.56 L435.59 478.09 L436.13 478.61 L436.68 479.12 L437.22 479.63 L437.77 480.13 L438.31 480.62 L438.86 481.11 L439.40 481.58 L439.95 482.06 L440.50 482.52 L441.04 482.98 L441.59 483.43 L442.13 483.88 L442.68 484.32 L443.22 484.75 L443.77 485.18 L444.31 485.61 L444.86 486.02 L445.40 486.44 L445.95 486.85 L446.50 487.25 L447.04 487.65 L447.59 488.04 L448.13 488.43 L448.68 488.81 L449.22 489.19 L449.77 489.57 L450.31 489.94 L450.86 490.30 L451.41 490.66 L451.95 491.02 L452.50 491.38 L453.04 491.73 L453.59 492.07 L454.13 492.41 L454.68 492.75 L455.22 493.09 L455.77 493.42 L456.31 493.74 L456.86 494.07 L457.41 494.39 L457.95 494.71 L458.50 495.02 L459.04 495.33 L459.59 495.64 L460.13 495.95 L460.68 496.25 L461.22 496.55 L461.77 496.84 L462.32 497.14 L462.86 497.43 L463.41 497.72 L463.95 498.00 L464.50 498.28 L465.04 498.57 L465.59 498.84 L466.13 499.12 L466.68 499.39 L467.23 499.66 L467.77 499.93 L468.32 500.20 L468.86 500.46 L469.41 500.73 L469.95 500.99 L470.50 501.24 L471.04 501.50 L471.59 501.76 L472.13 502.01 L472.68 502.26 L473.23 502.51 L473.77 502.76 L474.32 503.00 L474.86 503.25 L475.41 503.49 L475.95 503.73 L476.50 503.97 L477.04 504.21 L477.59 504.45 L478.13 504.68 L478.68 504.92 L479.23 505.15 L479.77 505.38 L480.32 505.61 L480.86 505.84 L481.41 506.07 L481.95 506.30 L482.50 506.52 L483.04 506.75 L483.59 506.98 L484.14 507.20 L484.68 507.42 L485.23 507.64 L485.77 507.87 L486.32 508.09 L486.86 508.31 L487.41 508.53 L487.95 508.75 L488.50 508.97 L489.04 509.18 L489.59 509.40 L490.14 509.62 L490.68 509.84 L491.23 510.05 L491.77 510.27 L492.32 510.49 L492.86 510.70 L493.41 510.92 L493.95 511.13 L494.50 511.35 L495.05 511.57 L495.59 511.78 L496.14 512.00 L496.68 512.21 L497.23 512.43 L497.77 512.64 L498.32 512.86 L498.86 513.07 L499.41 513.29 L499.96 513.50 L500.50 513.72 L501.05 513.93 L501.59 514.15 L502.14 514.36 L502.68 514.58 L503.23 514.79 L503.77 515.01 L504.32 515.22 L504.86 515.44 L505.41 515.65 L505.96 515.86 L506.50 516.08 L507.05 516.29 L507.59 516.50 L508.14 516.72 L508.68 516.93 L509.23 517.14 L509.77 517.35 L510.32 517.57 L510.87 517.78 L511.41 517.99 L511.96 518.20 L512.50 518.41 L513.05 518.62 L513.59 518.83 L514.14 519.05 L514.68 519.26 L515.23 519.47 L515.77 519.68 L516.32 519.89 L516.87 520.09 L517.41 520.30 L517.96 520.51 L518.50 520.72 L519.05 520.93 L519.59 521.14 L520.14 521.35 L520.68 521.55 L521.23 521.76 L521.77 521.97 L522.32 522.18 L522.87 522.38 L523.41 522.59 L523.96 522.79 L524.50 523.00 L525.05 523.21 L525.59 523.41 L526.14 523.62 L526.68 523.82 L527.23 524.03 L527.78 524.23 L528.32 524.44 L528.87 524.64 L529.41 524.85 L529.96 525.05 L530.50 525.25 L531.05 525.46 L531.59 525.66 L532.14 525.86 L532.69 526.07 L533.23 526.27 L533.78 526.48 L534.32 526.68 L534.87 526.88 L535.41 527.09 L535.96 527.29 L536.50 527.49 L537.05 527.70 L537.59 527.90 L538.14 528.10 L538.69 528.31 L539.23 528.51 L539.78 528.72 L540.32 528.92 L540.87 529.13 L541.41 529.33 L541.96 529.54 L542.50 529.74 L543.05 529.95 L543.60 530.16 L544.14 530.36 L544.69 530.57 L545.23 530.78 L545.78 530.99 L546.32 531.20 L546.87 531.41 L547.41 531.62 L547.96 531.83 L548.50 532.05 L549.05 532.26 L549.60 532.48 L550.14 532.69 L550.69 532.91 L551.23 533.13 L551.78 533.35 L552.32 533.57 L552.87 533.80 L553.41 534.02 L553.96 534.25 L554.50 534.48 L555.05 534.71 L555.60 534.94 L556.14 535.18 L556.69 535.42 L557.23 535.66 L557.78 535.90 L558.32 536.14 L558.87 536.39 L559.41 536.64 L559.96 536.90 L560.51 537.15 L561.05 537.42 L561.60 537.68 L562.14 537.95 L562.69 538.22 L563.23 538.50 L563.78 538.78 L564.32 539.06 L564.87 539.35 L565.41 539.64 L565.96 539.94 L566.51 540.25 L567.05 540.56 L567.60 540.87 L568.14 541.19 L568.69 541.51 L569.23 541.84 L569.78 542.18 L570.32 542.52 L570.87 542.86 L571.42 543.21 L571.96 543.56 L572.51 543.91 L573.05 544.26 L573.60 544.61 L574.14 544.95 L574.69 545.28 L575.23 545.59 L575.78 545.87 L576.33 546.10 L576.33 588.20 L575.78 586.84 L575.23 585.53 L574.69 584.29 L574.14 583.08 L573.60 581.92 L573.05 580.79 L572.51 579.69 L571.96 578.62 L571.42 577.58 L570.87 576.57 L570.32 575.58 L569.78 574.61 L569.23 573.67 L568.69 572.75 L568.14 571.84 L567.60 570.96 L567.05 570.09 L566.51 569.24 L565.96 568.41 L565.41 567.59 L564.87 566.79 L564.32 566.00 L563.78 565.23 L563.23 564.47 L562.69 563.73 L562.14 563.00 L561.60 562.28 L561.05 561.57 L560.51 560.88 L559.96 560.19 L559.41 559.52 L558.87 558.86 L558.32 558.21 L557.78 557.57 L557.23 556.94 L556.69 556.32 L556.14 555.71 L555.60 555.11 L555.05 554.52 L554.50 553.93 L553.96 553.36 L553.41 552.79 L552.87 552.23 L552.32 551.68 L551.78 551.14 L551.23 550.61 L550.69 550.08 L550.14 549.56 L549.60 549.05 L549.05 548.55 L548.50 548.05 L547.96 547.56 L547.41 547.08 L546.87 546.60 L546.32 546.13 L545.78 545.67 L545.23 545.21 L544.69 544.76 L544.14 544.31 L543.60 543.87 L543.05 543.43 L542.50 543.01 L541.96 542.58 L541.41 542.16 L540.87 541.75 L540.32 541.34 L539.78 540.94 L539.23 540.54 L538.69 540.15 L538.14 539.76 L537.59 539.38 L537.05 539.00 L536.50 538.63 L535.96 538.26 L535.41 537.89 L534.87 537.53 L534.32 537.18 L533.78 536.82 L533.23 536.47 L532.69 536.13 L532.14 535.79 L531.59 535.45 L531.05 535.12 L530.50 534.79 L529.96 534.47 L529.41 534.14 L528.87 533.82 L528.32 533.51 L527.78 533.20 L527.23 532.89 L526.68 532.58 L526.14 532.28 L525.59 531.98 L525.05 531.69 L524.50 531.39 L523.96 531.10 L523.41 530.81 L522.87 530.53 L522.32 530.25 L521.77 529.97 L521.23 529.69 L520.68 529.42 L520.14 529.14 L519.59 528.88 L519.05 528.61 L518.50 528.34 L517.96 528.08 L517.41 527.82 L516.87 527.56 L516.32 527.31 L515.77 527.05 L515.23 526.80 L514.68 526.55 L514.14 526.30 L513.59 526.05 L513.05 525.81 L512.50 525.56 L511.96 525.32 L511.41 525.08 L510.87 524.84 L510.32 524.61 L509.77 524.37 L509.23 524.14 L508.68 523.90 L508.14 523.67 L507.59 523.44 L507.05 523.21 L506.50 522.98 L505.96 522.76 L505.41 522.53 L504.86 522.31 L504.32 522.08 L503.77 521.86 L503.23 521.64 L502.68 521.41 L502.14 521.19 L501.59 520.97 L501.05 520.75 L500.50 520.53 L499.96 520.32 L499.41 520.10 L498.86 519.88 L498.32 519.66 L497.77 519.45 L497.23 519.23 L496.68 519.01 L496.14 518.80 L495.59 518.58 L495.05 518.37 L494.50 518.15 L493.95 517.93 L493.41 517.72 L492.86 517.50 L492.32 517.29 L491.77 517.07 L491.23 516.86 L490.68 516.64 L490.14 516.43 L489.59 516.21 L489.04 516.00 L488.50 515.78 L487.95 515.57 L487.41 515.35 L486.86 515.14 L486.32 514.92 L485.77 514.71 L485.23 514.49 L484.68 514.28 L484.14 514.06 L483.59 513.85 L483.04 513.63 L482.50 513.42 L481.95 513.20 L481.41 512.98 L480.86 512.77 L480.32 512.55 L479.77 512.34 L479.23 512.12 L478.68 511.91 L478.13 511.69 L477.59 511.48 L477.04 511.26 L476.50 511.05 L475.95 510.83 L475.41 510.61 L474.86 510.40 L474.32 510.18 L473.77 509.96 L473.23 509.75 L472.68 509.53 L472.13 509.31 L471.59 509.10 L471.04 508.88 L470.50 508.66 L469.95 508.44 L469.41 508.23 L468.86 508.01 L468.32 507.79 L467.77 507.57 L467.23 507.35 L466.68 507.13 L466.13 506.91 L465.59 506.69 L465.04 506.47 L464.50 506.25 L463.95 506.03 L463.41 505.81 L462.86 505.59 L462.32 505.37 L461.77 505.14 L461.22 504.92 L460.68 504.70 L460.13 504.48 L459.59 504.25 L459.04 504.03 L458.50 503.80 L457.95 503.58 L457.41 503.35 L456.86 503.12 L456.31 502.89 L455.77 502.67 L455.22 502.44 L454.68 502.21 L454.13 501.98 L453.59 501.75 L453.04 501.52 L452.50 501.28 L451.95 501.05 L451.41 500.82 L450.86 500.58 L450.31 500.34 L449.77 500.11 L449.22 499.87 L448.68 499.63 L448.13 499.39 L447.59 499.15 L447.04 498.91 L446.50 498.66 L445.95 498.42 L445.40 498.17 L444.86 497.93 L444.31 497.68 L443.77 497.43 L443.22 497.18 L442.68 496.93 L442.13 496.67 L441.59 496.42 L441.04 496.16 L440.50 495.90 L439.95 495.64 L439.40 495.38 L438.86 495.11 L438.31 494.85 L437.77 494.58 L437.22 494.31 L436.68 494.04 L436.13 493.77 L435.59 493.49 L435.04 493.21 L434.50 492.93 L433.95 492.65 L433.40 492.36 L432.86 492.07 L432.31 491.78 L431.77 491.49 L431.22 491.20 L430.68 490.90 L430.13 490.60 L429.59 490.30 L429.04 489.99 L428.49 489.68 L427.95 489.37 L427.40 489.06 L426.86 488.74 L426.31 488.42 L425.77 488.10 L425.22 487.78 L424.68 487.45 L424.13 487.12 L423.58 486.79 L423.04 486.46 L422.49 486.13 L421.95 485.80 L421.40 485.47 L420.86 485.14 L420.31 484.81 L419.77 484.49 L419.22 484.17 L418.68 483.86 L418.13 483.56 L417.58 483.27 L417.04 483.01 L416.49 482.76 L415.95 482.55 L415.40 482.38 L414.86 482.27 L414.31 482.23 L413.77 482.29 L413.22 482.50 L412.67 482.90Z" fill="#e0e0e0"/>
<path d="M412.67 463.10 L413.22 463.96 L413.77 464.80 L414.31 465.62 L414.86 466.41 L415.40 467.18 L415.95 467.93 L416.49 468.65 L417.04 469.37 L417.58 470.06 L418.13 470.73 L418.68 471.39 L419.22 472.04 L419.77 472.67 L420.31 473.28 L420.86 473.89 L421.40 474.48 L421.95 475.05 L422.49 475.62 L423.04 476.17 L423.58 476.72 L424.13 477.25 L424.68 477.77 L425.22 478.29 L425.77 478.79 L426.31 479.29 L426.86 479.77 L427.40 480.25 L427.95 480.72 L428.49 481.18 L429.04 481.64 L429.59 482.09 L430.13 482.53 L430.68 482.96 L431.22 483.39 L431.77 483.81 L432.31 484.23 L432.86 484.64 L433.40 485.04 L433.95 485.44 L434.50 485.83 L435.04 486.22 L435.59 486.60 L436.13 486.98 L436.68 487.35 L437.22 487.72 L437.77 488.09 L438.31 488.45 L438.86 488.80 L439.40 489.15 L439.95 489.50 L440.50 489.85 L441.04 490.19 L441.59 490.52 L442.13 490.86 L442.68 491.18 L443.22 491.51 L443.77 491.83 L444.31 492.15 L444.86 492.47 L445.40 492.78 L445.95 493.10 L446.50 493.40 L447.04 493.71 L447.59 494.01 L448.13 494.31 L448.68 494.61 L449.22 494.90 L449.77 495.20 L450.31 495.49 L450.86 495.77 L451.41 496.06 L451.95 496.34 L452.50 496.63 L453.04 496.90 L453.59 497.18 L454.13 497.46 L454.68 497.73 L455.22 498.00 L455.77 498.27 L456.31 498.54 L456.86 498.80 L457.41 499.07 L457.95 499.33 L458.50 499.59 L459.04 499.85 L459.59 500.11 L460.13 500.37 L460.68 500.62 L461.22 500.88 L461.77 501.13 L462.32 501.38 L462.86 501.63 L463.41 501.88 L463.95 502.12 L464.50 502.37 L465.04 502.61 L465.59 502.86 L466.13 503.10 L466.68 503.34 L467.23 503.58 L467.77 503.82 L468.32 504.06 L468.86 504.29 L469.41 504.53 L469.95 504.77 L470.50 505.00 L471.04 505.23 L471.59 505.47 L472.13 505.70 L472.68 505.93 L473.23 506.16 L473.77 506.39 L474.32 506.62 L474.86 506.84 L475.41 507.07 L475.95 507.30 L476.50 507.52 L477.04 507.75 L477.59 507.97 L478.13 508.20 L478.68 508.42 L479.23 508.64 L479.77 508.87 L480.32 509.09 L480.86 509.31 L481.41 509.53 L481.95 509.75 L482.50 509.97 L483.04 510.19 L483.59 510.41 L484.14 510.63 L484.68 510.85 L485.23 511.07 L485.77 511.29 L486.32 511.50 L486.86 511.72 L487.41 511.94 L487.95 512.16 L488.50 512.37 L489.04 512.59 L489.59 512.81 L490.14 513.02 L490.68 513.24 L491.23 513.46 L491.77 513.67 L492.32 513.89 L492.86 514.10 L493.41 514.32 L493.95 514.53 L494.50 514.75 L495.05 514.97 L495.59 515.18 L496.14 515.40 L496.68 515.61 L497.23 515.83 L497.77 516.04 L498.32 516.26 L498.86 516.48 L499.41 516.69 L499.96 516.91 L500.50 517.13 L501.05 517.34 L501.59 517.56 L502.14 517.78 L502.68 518.00 L503.23 518.21 L503.77 518.43 L504.32 518.65 L504.86 518.87 L505.41 519.09 L505.96 519.31 L506.50 519.53 L507.05 519.75 L507.59 519.97 L508.14 520.19 L508.68 520.41 L509.23 520.63 L509.77 520.86 L510.32 521.08 L510.87 521.30 L511.41 521.53 L511.96 521.75 L512.50 521.98 L513.05 522.20 L513.59 522.43 L514.14 522.66 L514.68 522.88 L515.23 523.11 L515.77 523.34 L516.32 523.57 L516.87 523.80 L517.41 524.03 L517.96 524.27 L518.50 524.50 L519.05 524.73 L519.59 524.97 L520.14 525.21 L520.68 525.44 L521.23 525.68 L521.77 525.92 L522.32 526.16 L522.87 526.40 L523.41 526.64 L523.96 526.89 L524.50 527.13 L525.05 527.38 L525.59 527.62 L526.14 527.87 L526.68 528.12 L527.23 528.37 L527.78 528.62 L528.32 528.88 L528.87 529.13 L529.41 529.39 L529.96 529.65 L530.50 529.91 L531.05 530.17 L531.59 530.43 L532.14 530.70 L532.69 530.96 L533.23 531.23 L533.78 531.50 L534.32 531.77 L534.87 532.04 L535.41 532.32 L535.96 532.60 L536.50 532.87 L537.05 533.16 L537.59 533.44 L538.14 533.73 L538.69 534.01 L539.23 534.30 L539.78 534.60 L540.32 534.89 L540.87 535.19 L541.41 535.49 L541.96 535.79 L542.50 536.10 L543.05 536.40 L543.60 536.72 L544.14 537.03 L544.69 537.35 L545.23 537.67 L545.78 537.99 L546.32 538.32 L546.87 538.64 L547.41 538.98 L547.96 539.31 L548.50 539.65 L549.05 540.00 L549.60 540.35 L550.14 540.70 L550.69 541.05 L551.23 541.41 L551.78 541.78 L552.32 542.15 L552.87 542.52 L553.41 542.90 L553.96 543.28 L554.50 543.67 L555.05 544.06 L555.60 544.46 L556.14 544.86 L556.69 545.27 L557.23 545.69 L557.78 546.11 L558.32 546.54 L558.87 546.97 L559.41 547.41 L559.96 547.86 L560.51 548.32 L561.05 548.78 L561.60 549.25 L562.14 549.73 L562.69 550.21 L563.23 550.71 L563.78 551.21 L564.32 551.73 L564.87 552.25 L565.41 552.78 L565.96 553.33 L566.51 553.88 L567.05 554.45 L567.60 555.02 L568.14 555.61 L568.69 556.22 L569.23 556.83 L569.78 557.46 L570.32 558.11 L570.87 558.77 L571.42 559.44 L571.96 560.13 L572.51 560.85 L573.05 561.57 L573.60 562.32 L574.14 563.09 L574.69 563.88 L575.23 564.70 L575.78 565.54 L576.33 566.40" stroke="#d6417a" stroke-width="1.05" fill="none" stroke-linejoin="round"/>
<path d="M380.50 425.90V599.30H608.80" stroke="#8a8a8a" stroke-width="1" fill="none"/>
<path d="M377.70 430.50H380.50 M377.70 463.38H380.50 M377.70 496.26H380.50 M377.70 529.14H380.50 M377.70 562.02H380.50 M377.70 594.90H380.50 M385.40 599.30V601.90 M439.95 599.30V601.90 M494.50 599.30V601.90 M549.05 599.30V601.90 M603.60 599.30V601.90" stroke="#8a8a8a" stroke-width="0.9" fill="none"/>
<text x="376.10" y="433.15" text-anchor="end" fill="#141414">.6</text>
<text x="376.10" y="466.03" text-anchor="end" fill="#141414">.4</text>
<text x="376.10" y="498.91" text-anchor="end" fill="#141414">.2</text>
<text x="376.10" y="531.79" text-anchor="end" fill="#141414">0</text>
<text x="376.10" y="564.67" text-anchor="end" fill="#141414">-.2</text>
<text x="376.10" y="597.55" text-anchor="end" fill="#141414">-.4</text>
<text x="385.40" y="611.10" text-anchor="middle" fill="#141414">-1</text>
<text x="439.95" y="611.10" text-anchor="middle" fill="#141414">-.5</text>
<text x="494.50" y="611.10" text-anchor="middle" fill="#141414">0</text>
<text x="549.05" y="611.10" text-anchor="middle" fill="#141414">.5</text>
<text x="603.60" y="611.10" text-anchor="middle" fill="#141414">1</text>
<text x="494.50" y="620.30" text-anchor="middle" fill="#141414">postulated endogeneity of ODA_CCAT</text>
<text transform="translate(361.20 512.60) rotate(-90)" text-anchor="middle" fill="#141414" style="stroke-width:0.08px">ODA_CCAT coefficient estimate</text>
<rect x="614.10" y="504.00" width="17" height="7.3" fill="#e0e0e0"/>
<path d="M614.10 518.20H631.10" stroke="#d6417a" stroke-width="1.1"/>
<text x="635.60" y="510.50" fill="#141414">KLS &gt;=95% CI</text>
<text x="635.60" y="520.60" fill="#141414">KLS estimate</text>
</svg></body></html>
